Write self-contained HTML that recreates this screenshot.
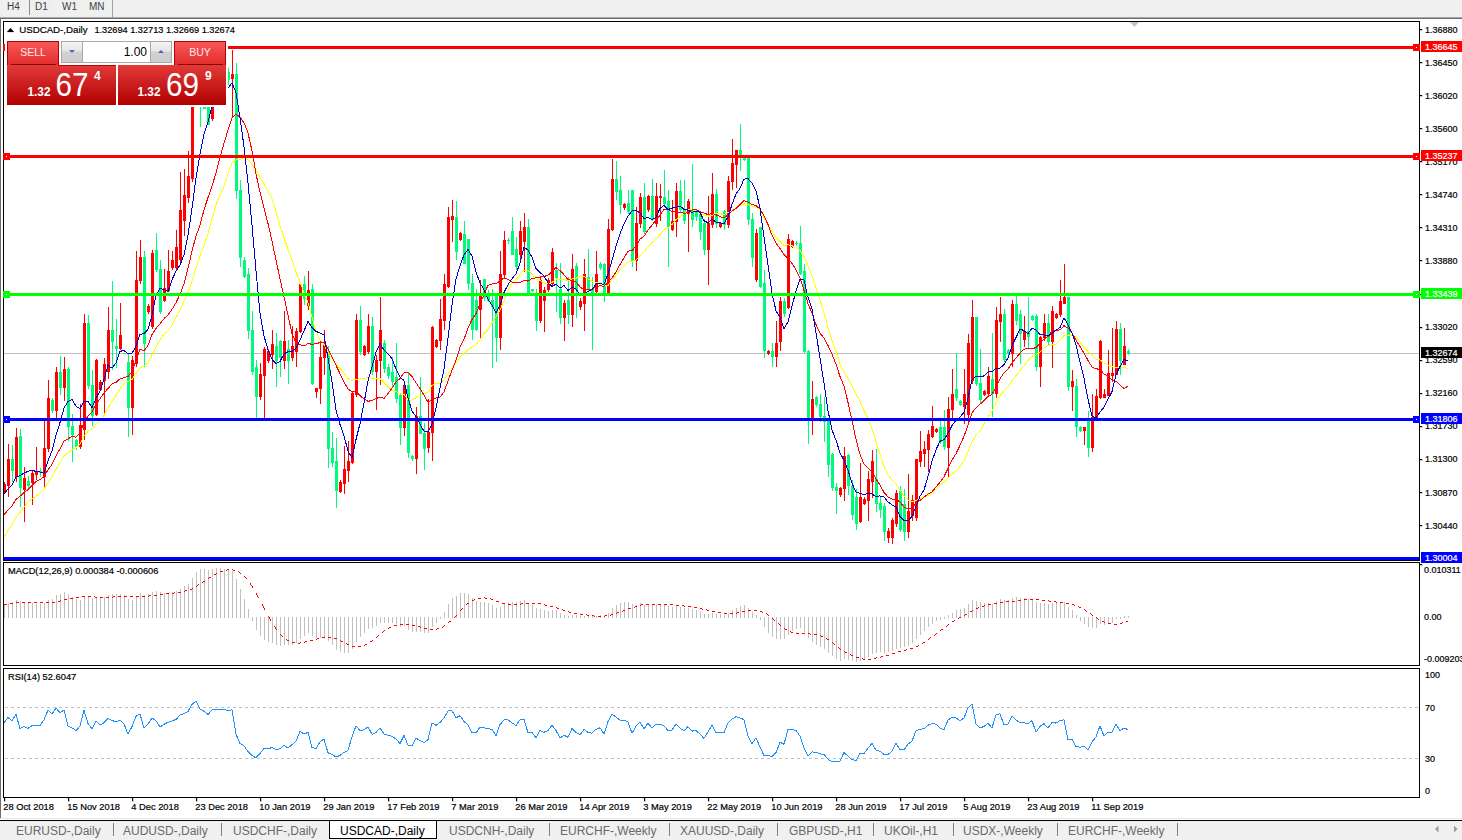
<!DOCTYPE html>
<html><head><meta charset="utf-8"><style>
html,body{margin:0;padding:0;}
body{width:1462px;height:840px;overflow:hidden;position:relative;background:#fff;font-family:"Liberation Sans",sans-serif;}
.abs{position:absolute;}
.tf{top:1px;font-size:10px;line-height:12px;color:#404040;}
.btxt{font-size:10.5px;color:#ffe8e8;text-align:center;line-height:14px;}
.pr{white-space:nowrap;color:#fff;line-height:30px;height:30px;}
.ps{font-size:12px;font-weight:bold;}
.pb{font-size:33px;margin-left:5px;}
.pu{font-size:12px;font-weight:bold;vertical-align:top;position:relative;top:-8px;margin-left:5px;}
.tab{top:824px;font-size:12px;line-height:14px;color:#6a6a6a;white-space:nowrap;}
.sep{top:823px;width:1px;height:13px;background:#808080;}
</style></head><body>
<div class="abs" style="left:0;top:0;width:1462px;height:17px;background:#f0f0f0"></div>
<div class="abs" style="left:0;top:17px;width:1462px;height:1px;background:#a8a8a8"></div>
<div class="abs" style="left:0;top:18px;width:1462px;height:1px;background:#707070"></div>
<div class="abs" style="left:0;top:19px;width:1px;height:799px;background:#6e6e6e"></div>
<svg width="1462" height="840" viewBox="0 0 1462 840" style="position:absolute;left:0;top:0">
<defs><clipPath id="cm"><rect x="4" y="22" width="1415" height="538"/></clipPath><clipPath id="cd"><rect x="4" y="563" width="1415" height="102"/></clipPath><clipPath id="cr"><rect x="4" y="669" width="1415" height="128"/></clipPath></defs>
<g shape-rendering="crispEdges">
<rect x="4" y="353" width="1415" height="1" fill="#c0c0c0"/>
<g clip-path="url(#cm)">
<rect x="4" y="482" width="1" height="12" fill="#ff0000"/>
<rect x="3" y="484" width="3" height="8" fill="#ff0000"/>
<rect x="8" y="444" width="1" height="53" fill="#ff0000"/>
<rect x="7" y="459" width="3" height="27" fill="#ff0000"/>
<rect x="12" y="445" width="1" height="37" fill="#00fa7c"/>
<rect x="11" y="459" width="3" height="12" fill="#00fa7c"/>
<rect x="16" y="428" width="1" height="54" fill="#ff0000"/>
<rect x="15" y="437" width="3" height="40" fill="#ff0000"/>
<rect x="20" y="429" width="1" height="78" fill="#00fa7c"/>
<rect x="19" y="436" width="3" height="52" fill="#00fa7c"/>
<rect x="24" y="467" width="1" height="55" fill="#ff0000"/>
<rect x="23" y="478" width="3" height="12" fill="#ff0000"/>
<rect x="28" y="476" width="1" height="13" fill="#00fa7c"/>
<rect x="27" y="481" width="3" height="5" fill="#00fa7c"/>
<rect x="32" y="471" width="1" height="34" fill="#ff0000"/>
<rect x="31" y="473" width="3" height="10" fill="#ff0000"/>
<rect x="36" y="447" width="1" height="33" fill="#ff0000"/>
<rect x="35" y="471" width="3" height="4" fill="#ff0000"/>
<rect x="40" y="468" width="1" height="9" fill="#00fa7c"/>
<rect x="39" y="471" width="3" height="2" fill="#00fa7c"/>
<rect x="44" y="421" width="1" height="67" fill="#ff0000"/>
<rect x="43" y="448" width="3" height="29" fill="#ff0000"/>
<rect x="48" y="380" width="1" height="72" fill="#ff0000"/>
<rect x="47" y="398" width="3" height="51" fill="#ff0000"/>
<rect x="52" y="398" width="1" height="15" fill="#00fa7c"/>
<rect x="51" y="400" width="3" height="11" fill="#00fa7c"/>
<rect x="56" y="367" width="1" height="51" fill="#ff0000"/>
<rect x="55" y="372" width="3" height="39" fill="#ff0000"/>
<rect x="60" y="356" width="1" height="39" fill="#00fa7c"/>
<rect x="59" y="372" width="3" height="16" fill="#00fa7c"/>
<rect x="64" y="357" width="1" height="44" fill="#ff0000"/>
<rect x="63" y="369" width="3" height="19" fill="#ff0000"/>
<rect x="68" y="367" width="1" height="74" fill="#00fa7c"/>
<rect x="67" y="369" width="3" height="58" fill="#00fa7c"/>
<rect x="72" y="414" width="1" height="48" fill="#00fa7c"/>
<rect x="71" y="426" width="3" height="9" fill="#00fa7c"/>
<rect x="76" y="439" width="1" height="11" fill="#00fa7c"/>
<rect x="75" y="440" width="3" height="7" fill="#00fa7c"/>
<rect x="80" y="404" width="1" height="45" fill="#ff0000"/>
<rect x="79" y="425" width="3" height="22" fill="#ff0000"/>
<rect x="84" y="314" width="1" height="126" fill="#ff0000"/>
<rect x="83" y="323" width="3" height="107" fill="#ff0000"/>
<rect x="88" y="315" width="1" height="74" fill="#00fa7c"/>
<rect x="87" y="323" width="3" height="63" fill="#00fa7c"/>
<rect x="92" y="370" width="1" height="56" fill="#00fa7c"/>
<rect x="91" y="385" width="3" height="31" fill="#00fa7c"/>
<rect x="96" y="359" width="1" height="57" fill="#ff0000"/>
<rect x="95" y="360" width="3" height="55" fill="#ff0000"/>
<rect x="100" y="380" width="1" height="11" fill="#ff0000"/>
<rect x="99" y="382" width="3" height="8" fill="#ff0000"/>
<rect x="104" y="358" width="1" height="57" fill="#ff0000"/>
<rect x="103" y="364" width="3" height="17" fill="#ff0000"/>
<rect x="108" y="307" width="1" height="72" fill="#ff0000"/>
<rect x="107" y="330" width="3" height="42" fill="#ff0000"/>
<rect x="112" y="281" width="1" height="89" fill="#00fa7c"/>
<rect x="111" y="330" width="3" height="12" fill="#00fa7c"/>
<rect x="116" y="319" width="1" height="49" fill="#00fa7c"/>
<rect x="115" y="346" width="3" height="3" fill="#00fa7c"/>
<rect x="120" y="303" width="1" height="47" fill="#ff0000"/>
<rect x="119" y="335" width="3" height="14" fill="#ff0000"/>
<rect x="124" y="353" width="1" height="1" fill="#00fa7c"/>
<rect x="123" y="353" width="3" height="1" fill="#00fa7c"/>
<rect x="128" y="354" width="1" height="83" fill="#00fa7c"/>
<rect x="127" y="362" width="3" height="46" fill="#00fa7c"/>
<rect x="132" y="356" width="1" height="79" fill="#ff0000"/>
<rect x="131" y="360" width="3" height="48" fill="#ff0000"/>
<rect x="136" y="251" width="1" height="116" fill="#ff0000"/>
<rect x="135" y="280" width="3" height="84" fill="#ff0000"/>
<rect x="140" y="240" width="1" height="44" fill="#ff0000"/>
<rect x="139" y="257" width="3" height="24" fill="#ff0000"/>
<rect x="144" y="251" width="1" height="116" fill="#00fa7c"/>
<rect x="143" y="257" width="3" height="87" fill="#00fa7c"/>
<rect x="148" y="304" width="1" height="10" fill="#ff0000"/>
<rect x="147" y="306" width="3" height="6" fill="#ff0000"/>
<rect x="152" y="250" width="1" height="79" fill="#ff0000"/>
<rect x="151" y="253" width="3" height="74" fill="#ff0000"/>
<rect x="156" y="233" width="1" height="39" fill="#00fa7c"/>
<rect x="155" y="250" width="3" height="20" fill="#00fa7c"/>
<rect x="160" y="260" width="1" height="54" fill="#00fa7c"/>
<rect x="159" y="269" width="3" height="43" fill="#00fa7c"/>
<rect x="164" y="269" width="1" height="33" fill="#ff0000"/>
<rect x="163" y="288" width="3" height="13" fill="#ff0000"/>
<rect x="168" y="250" width="1" height="42" fill="#ff0000"/>
<rect x="167" y="271" width="3" height="20" fill="#ff0000"/>
<rect x="172" y="251" width="1" height="19" fill="#ff0000"/>
<rect x="171" y="260" width="3" height="8" fill="#ff0000"/>
<rect x="176" y="230" width="1" height="40" fill="#ff0000"/>
<rect x="175" y="247" width="3" height="21" fill="#ff0000"/>
<rect x="180" y="172" width="1" height="91" fill="#ff0000"/>
<rect x="179" y="210" width="3" height="50" fill="#ff0000"/>
<rect x="184" y="169" width="1" height="67" fill="#ff0000"/>
<rect x="183" y="195" width="3" height="26" fill="#ff0000"/>
<rect x="188" y="151" width="1" height="52" fill="#ff0000"/>
<rect x="187" y="176" width="3" height="22" fill="#ff0000"/>
<rect x="192" y="92" width="1" height="90" fill="#ff0000"/>
<rect x="191" y="100" width="3" height="79" fill="#ff0000"/>
<rect x="196" y="52" width="1" height="54" fill="#ff0000"/>
<rect x="195" y="56" width="3" height="45" fill="#ff0000"/>
<rect x="200" y="52" width="1" height="75" fill="#00fa7c"/>
<rect x="199" y="56" width="3" height="40" fill="#00fa7c"/>
<rect x="204" y="90" width="1" height="19" fill="#00fa7c"/>
<rect x="203" y="95" width="3" height="14" fill="#00fa7c"/>
<rect x="208" y="92" width="1" height="33" fill="#00fa7c"/>
<rect x="207" y="100" width="3" height="25" fill="#00fa7c"/>
<rect x="212" y="72" width="1" height="49" fill="#ff0000"/>
<rect x="211" y="80" width="3" height="39" fill="#ff0000"/>
<rect x="216" y="68" width="1" height="18" fill="#ff0000"/>
<rect x="215" y="75" width="3" height="6" fill="#ff0000"/>
<rect x="220" y="66" width="1" height="17" fill="#00fa7c"/>
<rect x="219" y="75" width="3" height="1" fill="#00fa7c"/>
<rect x="224" y="64" width="1" height="17" fill="#ff0000"/>
<rect x="223" y="75" width="3" height="4" fill="#ff0000"/>
<rect x="228" y="68" width="1" height="17" fill="#00fa7c"/>
<rect x="227" y="72" width="3" height="8" fill="#00fa7c"/>
<rect x="232" y="50" width="1" height="67" fill="#ff0000"/>
<rect x="231" y="74" width="3" height="5" fill="#ff0000"/>
<rect x="236" y="63" width="1" height="136" fill="#00fa7c"/>
<rect x="235" y="74" width="3" height="117" fill="#00fa7c"/>
<rect x="240" y="180" width="1" height="87" fill="#00fa7c"/>
<rect x="239" y="190" width="3" height="68" fill="#00fa7c"/>
<rect x="244" y="257" width="1" height="21" fill="#00fa7c"/>
<rect x="243" y="260" width="3" height="17" fill="#00fa7c"/>
<rect x="248" y="268" width="1" height="71" fill="#00fa7c"/>
<rect x="247" y="274" width="3" height="57" fill="#00fa7c"/>
<rect x="252" y="311" width="1" height="64" fill="#00fa7c"/>
<rect x="251" y="330" width="3" height="42" fill="#00fa7c"/>
<rect x="256" y="360" width="1" height="58" fill="#00fa7c"/>
<rect x="255" y="367" width="3" height="30" fill="#00fa7c"/>
<rect x="260" y="363" width="1" height="37" fill="#ff0000"/>
<rect x="259" y="374" width="3" height="23" fill="#ff0000"/>
<rect x="264" y="347" width="1" height="71" fill="#ff0000"/>
<rect x="263" y="349" width="3" height="27" fill="#ff0000"/>
<rect x="268" y="349" width="1" height="14" fill="#ff0000"/>
<rect x="267" y="351" width="3" height="10" fill="#ff0000"/>
<rect x="272" y="330" width="1" height="39" fill="#ff0000"/>
<rect x="271" y="344" width="3" height="11" fill="#ff0000"/>
<rect x="276" y="333" width="1" height="54" fill="#00fa7c"/>
<rect x="275" y="346" width="3" height="15" fill="#00fa7c"/>
<rect x="280" y="340" width="1" height="37" fill="#00fa7c"/>
<rect x="279" y="341" width="3" height="17" fill="#00fa7c"/>
<rect x="284" y="311" width="1" height="58" fill="#ff0000"/>
<rect x="283" y="341" width="3" height="20" fill="#ff0000"/>
<rect x="288" y="340" width="1" height="44" fill="#00fa7c"/>
<rect x="287" y="349" width="3" height="12" fill="#00fa7c"/>
<rect x="292" y="326" width="1" height="35" fill="#ff0000"/>
<rect x="291" y="346" width="3" height="12" fill="#ff0000"/>
<rect x="296" y="328" width="1" height="39" fill="#ff0000"/>
<rect x="295" y="331" width="3" height="21" fill="#ff0000"/>
<rect x="300" y="283" width="1" height="50" fill="#ff0000"/>
<rect x="299" y="284" width="3" height="48" fill="#ff0000"/>
<rect x="304" y="276" width="1" height="29" fill="#00fa7c"/>
<rect x="303" y="284" width="3" height="15" fill="#00fa7c"/>
<rect x="308" y="271" width="1" height="39" fill="#ff0000"/>
<rect x="307" y="290" width="3" height="16" fill="#ff0000"/>
<rect x="312" y="284" width="1" height="101" fill="#00fa7c"/>
<rect x="311" y="289" width="3" height="95" fill="#00fa7c"/>
<rect x="316" y="388" width="1" height="10" fill="#ff0000"/>
<rect x="315" y="388" width="3" height="4" fill="#ff0000"/>
<rect x="320" y="340" width="1" height="64" fill="#ff0000"/>
<rect x="319" y="357" width="3" height="32" fill="#ff0000"/>
<rect x="324" y="330" width="1" height="45" fill="#ff0000"/>
<rect x="323" y="344" width="3" height="14" fill="#ff0000"/>
<rect x="328" y="346" width="1" height="122" fill="#00fa7c"/>
<rect x="327" y="351" width="3" height="98" fill="#00fa7c"/>
<rect x="332" y="432" width="1" height="35" fill="#00fa7c"/>
<rect x="331" y="448" width="3" height="15" fill="#00fa7c"/>
<rect x="336" y="438" width="1" height="70" fill="#00fa7c"/>
<rect x="335" y="461" width="3" height="30" fill="#00fa7c"/>
<rect x="340" y="480" width="1" height="13" fill="#ff0000"/>
<rect x="339" y="482" width="3" height="10" fill="#ff0000"/>
<rect x="344" y="446" width="1" height="48" fill="#ff0000"/>
<rect x="343" y="469" width="3" height="15" fill="#ff0000"/>
<rect x="348" y="441" width="1" height="41" fill="#ff0000"/>
<rect x="347" y="461" width="3" height="10" fill="#ff0000"/>
<rect x="352" y="391" width="1" height="73" fill="#ff0000"/>
<rect x="351" y="393" width="3" height="70" fill="#ff0000"/>
<rect x="356" y="314" width="1" height="83" fill="#ff0000"/>
<rect x="355" y="320" width="3" height="75" fill="#ff0000"/>
<rect x="360" y="306" width="1" height="49" fill="#00fa7c"/>
<rect x="359" y="320" width="3" height="32" fill="#00fa7c"/>
<rect x="364" y="345" width="1" height="11" fill="#ff0000"/>
<rect x="363" y="346" width="3" height="9" fill="#ff0000"/>
<rect x="368" y="314" width="1" height="40" fill="#ff0000"/>
<rect x="367" y="326" width="3" height="26" fill="#ff0000"/>
<rect x="372" y="317" width="1" height="58" fill="#00fa7c"/>
<rect x="371" y="326" width="3" height="46" fill="#00fa7c"/>
<rect x="376" y="355" width="1" height="55" fill="#ff0000"/>
<rect x="375" y="360" width="3" height="12" fill="#ff0000"/>
<rect x="380" y="297" width="1" height="88" fill="#ff0000"/>
<rect x="379" y="330" width="3" height="31" fill="#ff0000"/>
<rect x="384" y="340" width="1" height="33" fill="#00fa7c"/>
<rect x="383" y="343" width="3" height="26" fill="#00fa7c"/>
<rect x="388" y="364" width="1" height="15" fill="#00fa7c"/>
<rect x="387" y="367" width="3" height="9" fill="#00fa7c"/>
<rect x="392" y="357" width="1" height="30" fill="#00fa7c"/>
<rect x="391" y="372" width="3" height="10" fill="#00fa7c"/>
<rect x="396" y="343" width="1" height="60" fill="#00fa7c"/>
<rect x="395" y="377" width="3" height="22" fill="#00fa7c"/>
<rect x="400" y="394" width="1" height="51" fill="#00fa7c"/>
<rect x="399" y="395" width="3" height="33" fill="#00fa7c"/>
<rect x="404" y="383" width="1" height="53" fill="#ff0000"/>
<rect x="403" y="385" width="3" height="43" fill="#ff0000"/>
<rect x="408" y="373" width="1" height="85" fill="#00fa7c"/>
<rect x="407" y="385" width="3" height="68" fill="#00fa7c"/>
<rect x="412" y="455" width="1" height="6" fill="#00fa7c"/>
<rect x="411" y="456" width="3" height="3" fill="#00fa7c"/>
<rect x="416" y="407" width="1" height="67" fill="#ff0000"/>
<rect x="415" y="416" width="3" height="43" fill="#ff0000"/>
<rect x="420" y="377" width="1" height="57" fill="#00fa7c"/>
<rect x="419" y="416" width="3" height="18" fill="#00fa7c"/>
<rect x="424" y="423" width="1" height="47" fill="#00fa7c"/>
<rect x="423" y="433" width="3" height="16" fill="#00fa7c"/>
<rect x="428" y="399" width="1" height="54" fill="#ff0000"/>
<rect x="427" y="432" width="3" height="16" fill="#ff0000"/>
<rect x="432" y="326" width="1" height="135" fill="#ff0000"/>
<rect x="431" y="327" width="3" height="106" fill="#ff0000"/>
<rect x="436" y="339" width="1" height="9" fill="#ff0000"/>
<rect x="435" y="340" width="3" height="7" fill="#ff0000"/>
<rect x="440" y="299" width="1" height="51" fill="#ff0000"/>
<rect x="439" y="319" width="3" height="22" fill="#ff0000"/>
<rect x="444" y="274" width="1" height="56" fill="#ff0000"/>
<rect x="443" y="284" width="3" height="37" fill="#ff0000"/>
<rect x="448" y="207" width="1" height="81" fill="#ff0000"/>
<rect x="447" y="217" width="3" height="70" fill="#ff0000"/>
<rect x="452" y="200" width="1" height="42" fill="#ff0000"/>
<rect x="451" y="216" width="3" height="4" fill="#ff0000"/>
<rect x="456" y="201" width="1" height="59" fill="#00fa7c"/>
<rect x="455" y="217" width="3" height="35" fill="#00fa7c"/>
<rect x="460" y="232" width="1" height="9" fill="#ff0000"/>
<rect x="459" y="233" width="3" height="7" fill="#ff0000"/>
<rect x="464" y="221" width="1" height="43" fill="#00fa7c"/>
<rect x="463" y="234" width="3" height="30" fill="#00fa7c"/>
<rect x="468" y="239" width="1" height="51" fill="#00fa7c"/>
<rect x="467" y="239" width="3" height="45" fill="#00fa7c"/>
<rect x="472" y="274" width="1" height="66" fill="#00fa7c"/>
<rect x="471" y="283" width="3" height="47" fill="#00fa7c"/>
<rect x="476" y="289" width="1" height="42" fill="#00fa7c"/>
<rect x="475" y="300" width="3" height="30" fill="#00fa7c"/>
<rect x="480" y="280" width="1" height="58" fill="#ff0000"/>
<rect x="479" y="293" width="3" height="17" fill="#ff0000"/>
<rect x="484" y="279" width="1" height="22" fill="#00fa7c"/>
<rect x="483" y="279" width="3" height="19" fill="#00fa7c"/>
<rect x="488" y="290" width="1" height="12" fill="#00fa7c"/>
<rect x="487" y="294" width="3" height="7" fill="#00fa7c"/>
<rect x="492" y="289" width="1" height="79" fill="#00fa7c"/>
<rect x="491" y="300" width="3" height="7" fill="#00fa7c"/>
<rect x="496" y="294" width="1" height="68" fill="#00fa7c"/>
<rect x="495" y="294" width="3" height="44" fill="#00fa7c"/>
<rect x="500" y="251" width="1" height="99" fill="#ff0000"/>
<rect x="499" y="274" width="3" height="64" fill="#ff0000"/>
<rect x="504" y="231" width="1" height="47" fill="#ff0000"/>
<rect x="503" y="240" width="3" height="35" fill="#ff0000"/>
<rect x="508" y="238" width="1" height="6" fill="#00fa7c"/>
<rect x="507" y="240" width="3" height="1" fill="#00fa7c"/>
<rect x="512" y="217" width="1" height="38" fill="#00fa7c"/>
<rect x="511" y="231" width="3" height="24" fill="#00fa7c"/>
<rect x="516" y="237" width="1" height="33" fill="#00fa7c"/>
<rect x="515" y="249" width="3" height="18" fill="#00fa7c"/>
<rect x="520" y="221" width="1" height="40" fill="#ff0000"/>
<rect x="519" y="231" width="3" height="24" fill="#ff0000"/>
<rect x="524" y="213" width="1" height="59" fill="#ff0000"/>
<rect x="523" y="227" width="3" height="15" fill="#ff0000"/>
<rect x="528" y="219" width="1" height="76" fill="#00fa7c"/>
<rect x="527" y="227" width="3" height="67" fill="#00fa7c"/>
<rect x="532" y="289" width="1" height="3" fill="#00fa7c"/>
<rect x="531" y="289" width="3" height="2" fill="#00fa7c"/>
<rect x="536" y="289" width="1" height="42" fill="#00fa7c"/>
<rect x="535" y="294" width="3" height="27" fill="#00fa7c"/>
<rect x="540" y="277" width="1" height="46" fill="#ff0000"/>
<rect x="539" y="280" width="3" height="41" fill="#ff0000"/>
<rect x="544" y="287" width="1" height="45" fill="#ff0000"/>
<rect x="543" y="290" width="3" height="11" fill="#ff0000"/>
<rect x="548" y="278" width="1" height="14" fill="#ff0000"/>
<rect x="547" y="280" width="3" height="10" fill="#ff0000"/>
<rect x="552" y="248" width="1" height="38" fill="#ff0000"/>
<rect x="551" y="252" width="3" height="32" fill="#ff0000"/>
<rect x="556" y="263" width="1" height="49" fill="#00fa7c"/>
<rect x="555" y="270" width="3" height="8" fill="#00fa7c"/>
<rect x="560" y="263" width="1" height="61" fill="#00fa7c"/>
<rect x="559" y="289" width="3" height="29" fill="#00fa7c"/>
<rect x="564" y="300" width="1" height="41" fill="#ff0000"/>
<rect x="563" y="303" width="3" height="15" fill="#ff0000"/>
<rect x="568" y="277" width="1" height="47" fill="#00fa7c"/>
<rect x="567" y="300" width="3" height="15" fill="#00fa7c"/>
<rect x="572" y="254" width="1" height="73" fill="#ff0000"/>
<rect x="571" y="269" width="3" height="46" fill="#ff0000"/>
<rect x="576" y="263" width="1" height="55" fill="#00fa7c"/>
<rect x="575" y="266" width="3" height="24" fill="#00fa7c"/>
<rect x="580" y="298" width="1" height="12" fill="#ff0000"/>
<rect x="579" y="301" width="3" height="6" fill="#ff0000"/>
<rect x="584" y="259" width="1" height="72" fill="#ff0000"/>
<rect x="583" y="274" width="3" height="30" fill="#ff0000"/>
<rect x="588" y="249" width="1" height="42" fill="#00fa7c"/>
<rect x="587" y="277" width="3" height="13" fill="#00fa7c"/>
<rect x="592" y="277" width="1" height="73" fill="#00fa7c"/>
<rect x="591" y="289" width="3" height="4" fill="#00fa7c"/>
<rect x="596" y="251" width="1" height="43" fill="#ff0000"/>
<rect x="595" y="274" width="3" height="18" fill="#ff0000"/>
<rect x="600" y="262" width="1" height="8" fill="#00fa7c"/>
<rect x="599" y="264" width="3" height="4" fill="#00fa7c"/>
<rect x="604" y="263" width="1" height="39" fill="#00fa7c"/>
<rect x="603" y="264" width="3" height="30" fill="#00fa7c"/>
<rect x="608" y="219" width="1" height="76" fill="#ff0000"/>
<rect x="607" y="229" width="3" height="65" fill="#ff0000"/>
<rect x="612" y="159" width="1" height="72" fill="#ff0000"/>
<rect x="611" y="179" width="3" height="51" fill="#ff0000"/>
<rect x="616" y="161" width="1" height="39" fill="#00fa7c"/>
<rect x="615" y="179" width="3" height="13" fill="#00fa7c"/>
<rect x="620" y="176" width="1" height="38" fill="#00fa7c"/>
<rect x="619" y="190" width="3" height="15" fill="#00fa7c"/>
<rect x="624" y="203" width="1" height="7" fill="#ff0000"/>
<rect x="623" y="204" width="3" height="4" fill="#ff0000"/>
<rect x="628" y="190" width="1" height="24" fill="#00fa7c"/>
<rect x="627" y="203" width="3" height="9" fill="#00fa7c"/>
<rect x="632" y="190" width="1" height="77" fill="#00fa7c"/>
<rect x="631" y="190" width="3" height="71" fill="#00fa7c"/>
<rect x="636" y="207" width="1" height="64" fill="#ff0000"/>
<rect x="635" y="223" width="3" height="38" fill="#ff0000"/>
<rect x="640" y="193" width="1" height="35" fill="#ff0000"/>
<rect x="639" y="197" width="3" height="27" fill="#ff0000"/>
<rect x="644" y="183" width="1" height="51" fill="#00fa7c"/>
<rect x="643" y="197" width="3" height="35" fill="#00fa7c"/>
<rect x="648" y="195" width="1" height="17" fill="#ff0000"/>
<rect x="647" y="196" width="3" height="14" fill="#ff0000"/>
<rect x="652" y="179" width="1" height="42" fill="#00fa7c"/>
<rect x="651" y="196" width="3" height="24" fill="#00fa7c"/>
<rect x="656" y="183" width="1" height="44" fill="#ff0000"/>
<rect x="655" y="196" width="3" height="28" fill="#ff0000"/>
<rect x="660" y="184" width="1" height="37" fill="#ff0000"/>
<rect x="659" y="196" width="3" height="2" fill="#ff0000"/>
<rect x="664" y="170" width="1" height="37" fill="#00fa7c"/>
<rect x="663" y="197" width="3" height="7" fill="#00fa7c"/>
<rect x="668" y="190" width="1" height="77" fill="#00fa7c"/>
<rect x="667" y="201" width="3" height="26" fill="#00fa7c"/>
<rect x="672" y="200" width="1" height="31" fill="#ff0000"/>
<rect x="671" y="221" width="3" height="9" fill="#ff0000"/>
<rect x="676" y="183" width="1" height="54" fill="#ff0000"/>
<rect x="675" y="191" width="3" height="31" fill="#ff0000"/>
<rect x="680" y="180" width="1" height="32" fill="#00fa7c"/>
<rect x="679" y="191" width="3" height="19" fill="#00fa7c"/>
<rect x="684" y="180" width="1" height="44" fill="#00fa7c"/>
<rect x="683" y="209" width="3" height="12" fill="#00fa7c"/>
<rect x="688" y="199" width="1" height="53" fill="#ff0000"/>
<rect x="687" y="201" width="3" height="13" fill="#ff0000"/>
<rect x="692" y="164" width="1" height="63" fill="#00fa7c"/>
<rect x="691" y="209" width="3" height="11" fill="#00fa7c"/>
<rect x="696" y="209" width="1" height="12" fill="#00fa7c"/>
<rect x="695" y="210" width="3" height="7" fill="#00fa7c"/>
<rect x="700" y="211" width="1" height="29" fill="#00fa7c"/>
<rect x="699" y="214" width="3" height="18" fill="#00fa7c"/>
<rect x="704" y="219" width="1" height="36" fill="#00fa7c"/>
<rect x="703" y="223" width="3" height="27" fill="#00fa7c"/>
<rect x="708" y="196" width="1" height="89" fill="#ff0000"/>
<rect x="707" y="223" width="3" height="27" fill="#ff0000"/>
<rect x="712" y="173" width="1" height="55" fill="#ff0000"/>
<rect x="711" y="194" width="3" height="31" fill="#ff0000"/>
<rect x="716" y="189" width="1" height="39" fill="#00fa7c"/>
<rect x="715" y="194" width="3" height="30" fill="#00fa7c"/>
<rect x="720" y="222" width="1" height="6" fill="#ff0000"/>
<rect x="719" y="223" width="3" height="4" fill="#ff0000"/>
<rect x="724" y="210" width="1" height="20" fill="#00fa7c"/>
<rect x="723" y="211" width="3" height="14" fill="#00fa7c"/>
<rect x="728" y="176" width="1" height="52" fill="#ff0000"/>
<rect x="727" y="181" width="3" height="44" fill="#ff0000"/>
<rect x="732" y="139" width="1" height="51" fill="#ff0000"/>
<rect x="731" y="163" width="3" height="19" fill="#ff0000"/>
<rect x="736" y="150" width="1" height="38" fill="#ff0000"/>
<rect x="735" y="150" width="3" height="15" fill="#ff0000"/>
<rect x="740" y="124" width="1" height="47" fill="#00fa7c"/>
<rect x="739" y="150" width="3" height="5" fill="#00fa7c"/>
<rect x="744" y="155" width="1" height="6" fill="#00fa7c"/>
<rect x="743" y="156" width="3" height="4" fill="#00fa7c"/>
<rect x="748" y="157" width="1" height="68" fill="#00fa7c"/>
<rect x="747" y="157" width="3" height="63" fill="#00fa7c"/>
<rect x="752" y="213" width="1" height="54" fill="#00fa7c"/>
<rect x="751" y="219" width="3" height="39" fill="#00fa7c"/>
<rect x="756" y="229" width="1" height="53" fill="#ff0000"/>
<rect x="755" y="233" width="3" height="47" fill="#ff0000"/>
<rect x="760" y="227" width="1" height="61" fill="#00fa7c"/>
<rect x="759" y="227" width="3" height="60" fill="#00fa7c"/>
<rect x="764" y="270" width="1" height="88" fill="#00fa7c"/>
<rect x="763" y="283" width="3" height="68" fill="#00fa7c"/>
<rect x="768" y="350" width="1" height="5" fill="#ff0000"/>
<rect x="767" y="351" width="3" height="3" fill="#ff0000"/>
<rect x="772" y="343" width="1" height="24" fill="#00fa7c"/>
<rect x="771" y="351" width="3" height="6" fill="#00fa7c"/>
<rect x="776" y="321" width="1" height="46" fill="#ff0000"/>
<rect x="775" y="343" width="3" height="14" fill="#ff0000"/>
<rect x="780" y="297" width="1" height="54" fill="#ff0000"/>
<rect x="779" y="301" width="3" height="41" fill="#ff0000"/>
<rect x="784" y="298" width="1" height="19" fill="#00fa7c"/>
<rect x="783" y="301" width="3" height="13" fill="#00fa7c"/>
<rect x="788" y="234" width="1" height="75" fill="#ff0000"/>
<rect x="787" y="239" width="3" height="69" fill="#ff0000"/>
<rect x="792" y="240" width="1" height="8" fill="#ff0000"/>
<rect x="791" y="241" width="3" height="6" fill="#ff0000"/>
<rect x="796" y="241" width="1" height="5" fill="#00fa7c"/>
<rect x="795" y="243" width="3" height="1" fill="#00fa7c"/>
<rect x="800" y="226" width="1" height="49" fill="#00fa7c"/>
<rect x="799" y="243" width="3" height="31" fill="#00fa7c"/>
<rect x="804" y="264" width="1" height="89" fill="#00fa7c"/>
<rect x="803" y="271" width="3" height="81" fill="#00fa7c"/>
<rect x="808" y="350" width="1" height="94" fill="#00fa7c"/>
<rect x="807" y="351" width="3" height="69" fill="#00fa7c"/>
<rect x="812" y="381" width="1" height="54" fill="#ff0000"/>
<rect x="811" y="399" width="3" height="19" fill="#ff0000"/>
<rect x="816" y="396" width="1" height="11" fill="#00fa7c"/>
<rect x="815" y="397" width="3" height="8" fill="#00fa7c"/>
<rect x="820" y="394" width="1" height="28" fill="#00fa7c"/>
<rect x="819" y="404" width="3" height="13" fill="#00fa7c"/>
<rect x="824" y="397" width="1" height="45" fill="#00fa7c"/>
<rect x="823" y="416" width="3" height="6" fill="#00fa7c"/>
<rect x="828" y="419" width="1" height="58" fill="#00fa7c"/>
<rect x="827" y="420" width="3" height="45" fill="#00fa7c"/>
<rect x="832" y="453" width="1" height="38" fill="#00fa7c"/>
<rect x="831" y="454" width="3" height="34" fill="#00fa7c"/>
<rect x="836" y="483" width="1" height="31" fill="#00fa7c"/>
<rect x="835" y="487" width="3" height="4" fill="#00fa7c"/>
<rect x="840" y="487" width="1" height="10" fill="#ff0000"/>
<rect x="839" y="488" width="3" height="7" fill="#ff0000"/>
<rect x="844" y="447" width="1" height="54" fill="#ff0000"/>
<rect x="843" y="456" width="3" height="33" fill="#ff0000"/>
<rect x="848" y="454" width="1" height="41" fill="#00fa7c"/>
<rect x="847" y="455" width="3" height="31" fill="#00fa7c"/>
<rect x="852" y="480" width="1" height="40" fill="#00fa7c"/>
<rect x="851" y="486" width="3" height="29" fill="#00fa7c"/>
<rect x="856" y="489" width="1" height="41" fill="#00fa7c"/>
<rect x="855" y="497" width="3" height="27" fill="#00fa7c"/>
<rect x="860" y="463" width="1" height="60" fill="#ff0000"/>
<rect x="859" y="497" width="3" height="25" fill="#ff0000"/>
<rect x="864" y="497" width="1" height="8" fill="#ff0000"/>
<rect x="863" y="499" width="3" height="5" fill="#ff0000"/>
<rect x="868" y="471" width="1" height="50" fill="#ff0000"/>
<rect x="867" y="479" width="3" height="22" fill="#ff0000"/>
<rect x="872" y="450" width="1" height="48" fill="#ff0000"/>
<rect x="871" y="461" width="3" height="21" fill="#ff0000"/>
<rect x="876" y="449" width="1" height="63" fill="#00fa7c"/>
<rect x="875" y="479" width="3" height="25" fill="#00fa7c"/>
<rect x="880" y="497" width="1" height="21" fill="#00fa7c"/>
<rect x="879" y="503" width="3" height="7" fill="#00fa7c"/>
<rect x="884" y="503" width="1" height="38" fill="#00fa7c"/>
<rect x="883" y="506" width="3" height="26" fill="#00fa7c"/>
<rect x="888" y="528" width="1" height="15" fill="#ff0000"/>
<rect x="887" y="531" width="3" height="7" fill="#ff0000"/>
<rect x="892" y="518" width="1" height="26" fill="#ff0000"/>
<rect x="891" y="520" width="3" height="18" fill="#ff0000"/>
<rect x="896" y="490" width="1" height="37" fill="#ff0000"/>
<rect x="895" y="493" width="3" height="31" fill="#ff0000"/>
<rect x="900" y="486" width="1" height="46" fill="#00fa7c"/>
<rect x="899" y="491" width="3" height="39" fill="#00fa7c"/>
<rect x="904" y="489" width="1" height="52" fill="#00fa7c"/>
<rect x="903" y="504" width="3" height="28" fill="#00fa7c"/>
<rect x="908" y="474" width="1" height="64" fill="#ff0000"/>
<rect x="907" y="511" width="3" height="21" fill="#ff0000"/>
<rect x="912" y="495" width="1" height="26" fill="#ff0000"/>
<rect x="911" y="500" width="3" height="16" fill="#ff0000"/>
<rect x="916" y="459" width="1" height="62" fill="#ff0000"/>
<rect x="915" y="459" width="3" height="59" fill="#ff0000"/>
<rect x="920" y="431" width="1" height="36" fill="#ff0000"/>
<rect x="919" y="451" width="3" height="11" fill="#ff0000"/>
<rect x="924" y="441" width="1" height="26" fill="#ff0000"/>
<rect x="923" y="449" width="3" height="5" fill="#ff0000"/>
<rect x="928" y="430" width="1" height="42" fill="#ff0000"/>
<rect x="927" y="434" width="3" height="16" fill="#ff0000"/>
<rect x="932" y="406" width="1" height="32" fill="#ff0000"/>
<rect x="931" y="426" width="3" height="11" fill="#ff0000"/>
<rect x="936" y="428" width="1" height="5" fill="#ff0000"/>
<rect x="935" y="429" width="3" height="3" fill="#ff0000"/>
<rect x="940" y="420" width="1" height="24" fill="#00fa7c"/>
<rect x="939" y="427" width="3" height="15" fill="#00fa7c"/>
<rect x="944" y="410" width="1" height="40" fill="#00fa7c"/>
<rect x="943" y="427" width="3" height="20" fill="#00fa7c"/>
<rect x="948" y="397" width="1" height="81" fill="#ff0000"/>
<rect x="947" y="409" width="3" height="39" fill="#ff0000"/>
<rect x="952" y="369" width="1" height="52" fill="#ff0000"/>
<rect x="951" y="394" width="3" height="16" fill="#ff0000"/>
<rect x="956" y="353" width="1" height="48" fill="#00fa7c"/>
<rect x="955" y="389" width="3" height="9" fill="#00fa7c"/>
<rect x="960" y="400" width="1" height="6" fill="#00fa7c"/>
<rect x="959" y="401" width="3" height="4" fill="#00fa7c"/>
<rect x="964" y="369" width="1" height="55" fill="#ff0000"/>
<rect x="963" y="394" width="3" height="13" fill="#ff0000"/>
<rect x="968" y="334" width="1" height="90" fill="#ff0000"/>
<rect x="967" y="343" width="3" height="72" fill="#ff0000"/>
<rect x="972" y="300" width="1" height="84" fill="#ff0000"/>
<rect x="971" y="317" width="3" height="64" fill="#ff0000"/>
<rect x="976" y="317" width="1" height="69" fill="#00fa7c"/>
<rect x="975" y="317" width="3" height="67" fill="#00fa7c"/>
<rect x="980" y="349" width="1" height="55" fill="#00fa7c"/>
<rect x="979" y="383" width="3" height="17" fill="#00fa7c"/>
<rect x="984" y="390" width="1" height="6" fill="#ff0000"/>
<rect x="983" y="391" width="3" height="4" fill="#ff0000"/>
<rect x="988" y="367" width="1" height="30" fill="#ff0000"/>
<rect x="987" y="376" width="3" height="18" fill="#ff0000"/>
<rect x="992" y="333" width="1" height="84" fill="#00fa7c"/>
<rect x="991" y="379" width="3" height="15" fill="#00fa7c"/>
<rect x="996" y="307" width="1" height="91" fill="#ff0000"/>
<rect x="995" y="320" width="3" height="74" fill="#ff0000"/>
<rect x="1000" y="297" width="1" height="45" fill="#ff0000"/>
<rect x="999" y="314" width="3" height="8" fill="#ff0000"/>
<rect x="1004" y="309" width="1" height="53" fill="#00fa7c"/>
<rect x="1003" y="314" width="3" height="46" fill="#00fa7c"/>
<rect x="1008" y="349" width="1" height="6" fill="#00fa7c"/>
<rect x="1007" y="350" width="3" height="4" fill="#00fa7c"/>
<rect x="1012" y="300" width="1" height="67" fill="#ff0000"/>
<rect x="1011" y="304" width="3" height="50" fill="#ff0000"/>
<rect x="1016" y="296" width="1" height="29" fill="#00fa7c"/>
<rect x="1015" y="304" width="3" height="17" fill="#00fa7c"/>
<rect x="1020" y="310" width="1" height="54" fill="#00fa7c"/>
<rect x="1019" y="314" width="3" height="20" fill="#00fa7c"/>
<rect x="1024" y="316" width="1" height="31" fill="#ff0000"/>
<rect x="1023" y="331" width="3" height="9" fill="#ff0000"/>
<rect x="1028" y="297" width="1" height="51" fill="#00fa7c"/>
<rect x="1027" y="331" width="3" height="6" fill="#00fa7c"/>
<rect x="1032" y="315" width="1" height="6" fill="#00fa7c"/>
<rect x="1031" y="316" width="3" height="4" fill="#00fa7c"/>
<rect x="1036" y="314" width="1" height="57" fill="#00fa7c"/>
<rect x="1035" y="316" width="3" height="51" fill="#00fa7c"/>
<rect x="1040" y="336" width="1" height="51" fill="#ff0000"/>
<rect x="1039" y="337" width="3" height="30" fill="#ff0000"/>
<rect x="1044" y="314" width="1" height="27" fill="#ff0000"/>
<rect x="1043" y="323" width="3" height="15" fill="#ff0000"/>
<rect x="1048" y="314" width="1" height="31" fill="#00fa7c"/>
<rect x="1047" y="323" width="3" height="19" fill="#00fa7c"/>
<rect x="1052" y="306" width="1" height="62" fill="#ff0000"/>
<rect x="1051" y="311" width="3" height="31" fill="#ff0000"/>
<rect x="1056" y="313" width="1" height="6" fill="#ff0000"/>
<rect x="1055" y="314" width="3" height="4" fill="#ff0000"/>
<rect x="1060" y="280" width="1" height="37" fill="#ff0000"/>
<rect x="1059" y="301" width="3" height="14" fill="#ff0000"/>
<rect x="1064" y="264" width="1" height="40" fill="#ff0000"/>
<rect x="1063" y="297" width="3" height="7" fill="#ff0000"/>
<rect x="1068" y="297" width="1" height="94" fill="#00fa7c"/>
<rect x="1067" y="297" width="3" height="90" fill="#00fa7c"/>
<rect x="1072" y="370" width="1" height="41" fill="#ff0000"/>
<rect x="1071" y="381" width="3" height="6" fill="#ff0000"/>
<rect x="1076" y="379" width="1" height="58" fill="#00fa7c"/>
<rect x="1075" y="386" width="3" height="41" fill="#00fa7c"/>
<rect x="1080" y="426" width="1" height="6" fill="#00fa7c"/>
<rect x="1079" y="427" width="3" height="4" fill="#00fa7c"/>
<rect x="1084" y="427" width="1" height="18" fill="#ff0000"/>
<rect x="1083" y="427" width="3" height="4" fill="#ff0000"/>
<rect x="1088" y="411" width="1" height="46" fill="#00fa7c"/>
<rect x="1087" y="421" width="3" height="27" fill="#00fa7c"/>
<rect x="1092" y="394" width="1" height="58" fill="#ff0000"/>
<rect x="1091" y="417" width="3" height="31" fill="#ff0000"/>
<rect x="1096" y="389" width="1" height="31" fill="#ff0000"/>
<rect x="1095" y="396" width="3" height="22" fill="#ff0000"/>
<rect x="1100" y="340" width="1" height="59" fill="#ff0000"/>
<rect x="1099" y="341" width="3" height="57" fill="#ff0000"/>
<rect x="1104" y="389" width="1" height="9" fill="#ff0000"/>
<rect x="1103" y="394" width="3" height="4" fill="#ff0000"/>
<rect x="1108" y="350" width="1" height="46" fill="#ff0000"/>
<rect x="1107" y="373" width="3" height="23" fill="#ff0000"/>
<rect x="1112" y="328" width="1" height="54" fill="#ff0000"/>
<rect x="1111" y="373" width="3" height="3" fill="#ff0000"/>
<rect x="1116" y="321" width="1" height="54" fill="#ff0000"/>
<rect x="1115" y="329" width="3" height="46" fill="#ff0000"/>
<rect x="1120" y="323" width="1" height="52" fill="#00fa7c"/>
<rect x="1119" y="329" width="3" height="32" fill="#00fa7c"/>
<rect x="1124" y="328" width="1" height="37" fill="#ff0000"/>
<rect x="1123" y="346" width="3" height="19" fill="#ff0000"/>
<rect x="1128" y="349" width="1" height="6" fill="#00fa7c"/>
<rect x="1127" y="351" width="3" height="3" fill="#00fa7c"/>
</g>
</g>
<g clip-path="url(#cm)">
<polyline points="4,537.0 8,530.6 12,524.8 16,517.4 20,512.4 24,507.0 28,501.9 32,499.0 36,496.1 40,493.2 44,489.1 48,482.7 52,476.9 56,469.2 60,462.2 64,456.2 68,452.9 72,449.9 76,447.5 80,444.1 84,435.9 88,431.2 92,429.1 96,423.9 100,421.2 104,415.4 108,408.3 112,401.5 116,395.5 120,389.0 124,383.4 128,381.4 132,379.6 136,373.4 140,368.0 144,365.9 148,362.9 152,354.6 156,346.8 160,340.3 164,333.8 168,331.3 172,325.4 176,317.4 180,310.2 184,301.3 188,292.4 192,281.4 196,267.9 200,255.8 204,245.0 208,234.1 212,218.5 216,205.0 220,195.2 224,186.5 228,174.0 232,162.9 236,159.9 240,159.3 244,157.7 248,159.7 252,164.4 256,170.9 260,177.0 264,183.6 268,191.0 272,199.0 276,211.4 280,225.7 284,237.4 288,249.4 292,260.0 296,272.0 300,281.9 304,292.5 308,302.8 312,317.2 316,332.2 320,340.1 324,344.3 328,352.5 332,358.8 336,364.4 340,368.5 344,373.0 348,378.4 352,380.4 356,379.2 360,378.8 364,378.3 368,377.6 372,378.1 376,378.8 380,378.7 384,382.7 388,386.4 392,390.7 396,391.4 400,393.3 404,394.6 408,399.8 412,400.2 416,398.0 420,395.3 424,393.7 428,392.0 432,385.6 436,383.0 440,383.0 444,379.8 448,373.7 452,368.4 456,362.7 460,356.7 464,353.5 468,349.4 472,347.2 476,344.8 480,339.8 484,333.6 488,329.5 492,322.6 496,316.8 500,310.0 504,300.9 508,291.0 512,282.5 516,279.6 520,274.4 524,270.0 528,270.4 532,273.9 536,278.9 540,280.2 544,283.0 548,283.8 552,282.3 556,279.8 560,279.2 564,279.7 568,280.5 572,279.0 576,278.2 580,276.5 584,276.5 588,278.9 592,281.3 596,282.3 600,282.3 604,285.3 608,285.4 612,280.0 616,275.2 620,269.7 624,266.1 628,262.3 632,261.4 636,260.0 640,256.2 644,252.1 648,247.0 652,242.5 656,239.0 660,234.6 664,229.9 668,227.6 672,224.4 676,219.6 680,216.5 684,214.2 688,209.9 692,209.4 696,211.1 700,213.0 704,215.2 708,216.1 712,215.3 716,213.5 720,213.5 724,214.8 728,212.4 732,210.9 736,207.6 740,205.6 744,203.8 748,204.6 752,206.0 756,206.6 760,211.1 764,217.9 768,224.1 772,231.5 776,237.4 780,241.4 784,245.3 788,244.9 792,245.7 796,248.0 800,250.4 804,256.5 808,265.8 812,276.2 816,287.7 820,300.3 824,313.0 828,327.6 832,340.3 836,351.4 840,363.6 844,371.7 848,378.1 852,385.9 856,393.8 860,401.1 864,410.6 868,418.5 872,429.0 876,441.5 880,454.2 884,466.5 888,475.0 892,479.9 896,484.3 900,490.3 904,495.8 908,500.0 912,501.8 916,500.4 920,498.6 924,496.7 928,495.7 932,492.9 936,488.8 940,484.9 944,482.5 948,478.2 952,474.1 956,471.1 960,466.4 964,460.9 968,452.0 972,441.8 976,435.2 980,430.8 984,424.2 988,416.8 992,411.2 996,402.6 1000,395.7 1004,391.3 1008,386.8 1012,380.6 1016,375.5 1020,371.0 1024,365.7 1028,360.5 1032,356.2 1036,354.9 1040,352.0 1044,348.1 1048,345.6 1052,344.1 1056,344.0 1060,340.0 1064,335.2 1068,335.0 1072,335.2 1076,336.8 1080,342.0 1084,347.4 1088,351.6 1092,354.6 1096,359.0 1100,360.0 1104,362.9 1108,364.9 1112,366.7 1116,367.1 1120,366.9 1124,367.3 1128,368.7" fill="none" stroke="#ffff00" stroke-width="1" shape-rendering="crispEdges"/>
<polyline points="4,514.9 8,510.0 12,505.8 16,499.4 20,496.3 24,492.7 28,489.5 32,485.5 36,481.3 40,479.7 44,476.5 48,470.0 52,464.3 56,456.0 60,448.7 64,441.1 68,438.9 72,436.5 76,437.1 80,432.9 84,422.6 88,415.9 92,412.1 96,404.7 100,398.7 104,393.1 108,388.5 112,383.9 116,382.3 120,378.9 124,377.8 128,376.5 132,371.6 136,360.5 140,349.3 144,350.7 148,345.4 152,334.6 156,328.5 160,323.8 164,318.7 168,314.8 172,309.4 176,302.7 180,294.3 184,283.8 188,268.4 192,251.1 196,236.1 200,225.3 204,209.7 208,197.5 212,186.0 216,173.1 220,157.3 224,143.1 228,130.3 232,117.9 236,114.1 240,117.3 244,122.7 248,132.9 252,151.0 256,173.7 260,192.3 264,208.3 268,223.5 272,241.1 276,260.1 280,278.9 284,296.6 288,315.3 292,333.5 296,342.9 300,344.7 304,346.1 308,343.5 312,344.3 316,343.7 320,342.6 324,342.3 328,348.7 332,356.6 336,365.3 340,373.6 344,382.1 348,388.9 352,392.0 356,391.3 360,395.7 364,398.9 368,401.3 372,400.5 376,398.7 380,396.9 384,398.5 388,393.6 392,388.2 396,382.1 400,378.4 404,372.8 408,372.2 412,376.5 416,382.9 420,388.4 424,395.2 428,402.3 432,399.3 436,398.0 440,397.3 444,391.7 448,381.1 452,370.1 456,360.3 460,347.4 464,339.3 468,328.0 472,319.4 476,313.6 480,304.3 484,294.2 488,285.4 492,284.0 496,283.8 500,280.8 504,277.9 508,279.4 512,281.9 516,282.9 520,282.8 524,280.4 528,281.1 532,278.5 536,277.9 540,277.0 544,276.5 548,275.2 552,271.6 556,267.6 560,270.5 564,274.7 568,279.6 572,280.6 576,282.1 580,286.8 584,289.9 588,289.7 592,289.8 596,286.7 600,285.9 604,286.1 608,282.7 612,277.8 616,272.1 620,264.5 624,257.9 628,251.1 632,250.5 636,246.1 640,239.1 644,236.3 648,230.1 652,225.2 656,220.0 660,215.3 664,209.3 668,209.1 672,211.9 676,211.9 680,212.2 684,213.3 688,212.6 692,209.9 696,209.4 700,211.7 704,212.9 708,214.7 712,213.0 716,214.8 720,216.6 724,218.0 728,215.0 732,211.1 736,208.4 740,204.7 744,200.7 748,201.9 752,204.4 756,205.5 760,209.2 764,215.9 768,224.5 772,235.3 776,243.3 780,248.5 784,254.4 788,258.3 792,263.5 796,269.7 800,277.6 804,290.4 808,303.7 812,313.2 816,324.6 820,333.3 824,338.0 828,345.5 832,354.3 836,364.1 840,376.5 844,386.1 848,402.5 852,420.7 856,439.3 860,454.3 864,464.1 868,468.1 872,472.3 876,478.9 880,485.1 884,492.4 888,496.9 892,499.1 896,499.3 900,502.0 904,507.0 908,508.7 912,507.8 916,503.5 920,500.5 924,497.1 928,494.1 932,491.8 936,486.9 940,482.3 944,476.7 948,468.5 952,460.1 956,453.7 960,445.4 964,436.3 968,425.1 972,412.9 976,407.8 980,404.3 984,400.5 988,396.6 992,394.4 996,387.1 1000,378.7 1004,372.9 1008,369.1 1012,363.1 1016,358.0 1020,353.3 1024,349.1 1028,348.6 1032,348.7 1036,347.6 1040,343.5 1044,338.9 1048,336.6 1052,331.1 1056,330.7 1060,329.9 1064,325.7 1068,327.9 1072,333.1 1076,340.1 1080,346.6 1084,353.0 1088,360.4 1092,366.9 1096,368.9 1100,369.2 1104,373.9 1108,376.1 1112,380.2 1116,381.2 1120,385.1 1124,388.4 1128,386.2" fill="none" stroke="#ff0000" stroke-width="1" shape-rendering="crispEdges"/>
<polyline points="4,494.3 8,489.0 12,485.3 16,476.9 20,475.6 24,473.0 28,471.4 32,469.9 36,471.6 40,471.9 44,473.4 48,460.7 52,451.0 56,434.9 60,422.6 64,408.0 68,401.4 72,399.4 76,406.3 80,408.4 84,401.4 88,401.1 92,407.7 96,398.3 100,390.9 104,379.1 108,365.6 112,368.1 116,362.9 120,351.4 124,350.4 128,354.0 132,353.4 136,346.3 140,334.3 144,333.6 148,329.4 152,315.1 156,295.4 160,288.4 164,289.6 168,291.6 172,279.7 176,271.3 180,265.1 184,254.6 188,235.3 192,208.4 196,177.7 200,154.1 204,134.3 208,122.0 212,105.6 216,91.1 220,87.6 224,90.3 228,88.0 232,83.1 236,92.6 240,117.9 244,146.6 248,183.0 252,225.3 256,270.6 260,313.4 264,336.1 268,349.6 272,359.3 276,363.6 280,361.6 284,353.7 288,351.7 292,351.3 296,348.4 300,339.9 304,331.0 308,321.4 312,327.4 316,331.4 320,333.0 324,334.9 328,358.3 332,381.7 336,410.3 340,424.4 344,436.0 348,450.9 352,457.9 356,439.6 360,423.7 364,403.1 368,380.9 372,366.9 376,352.4 380,343.4 384,350.3 388,353.7 392,358.7 396,369.0 400,377.0 404,380.6 408,398.0 412,410.9 416,416.7 420,424.1 424,431.3 428,432.0 432,423.7 436,407.7 440,387.9 444,369.0 448,338.1 452,305.0 456,279.1 460,265.7 464,254.7 468,249.6 472,256.0 476,272.0 480,283.0 484,289.6 488,299.1 492,305.3 496,313.0 500,305.1 504,292.4 508,284.9 512,278.7 516,273.9 520,263.1 524,247.4 528,250.1 532,257.3 536,268.7 540,272.4 544,275.9 548,282.9 552,286.4 556,284.1 560,288.0 564,285.6 568,290.4 572,287.4 576,288.7 580,295.7 584,295.3 588,291.3 592,289.7 596,284.0 600,283.7 604,284.3 608,274.0 612,260.4 616,246.4 620,233.9 624,223.9 628,215.9 632,211.1 636,210.3 640,212.9 644,218.6 648,217.4 652,219.6 656,217.4 660,208.3 664,205.4 668,209.6 672,208.1 676,207.4 680,206.0 684,209.4 688,210.1 692,212.4 696,211.0 700,212.4 704,220.7 708,222.7 712,219.0 716,222.1 720,222.7 724,223.9 728,216.7 732,204.4 736,194.0 740,188.3 744,179.1 748,178.6 752,183.3 756,190.7 760,208.3 764,236.9 768,265.0 772,293.1 776,310.9 780,317.1 784,328.6 788,321.9 792,306.3 796,290.9 800,279.0 804,280.1 808,297.0 812,309.3 816,332.9 820,357.9 824,383.3 828,410.6 832,430.0 836,440.1 840,452.9 844,460.3 848,470.1 852,483.4 856,491.9 860,493.3 864,494.6 868,493.3 872,494.0 876,496.6 880,495.9 884,497.0 888,501.9 892,504.9 896,506.9 900,516.6 904,520.6 908,520.9 912,516.4 916,506.1 920,496.3 924,490.0 928,476.4 932,461.4 936,449.7 940,441.3 944,439.4 948,433.4 952,425.6 956,420.3 960,417.1 964,412.1 968,398.1 972,379.7 976,376.0 980,376.7 984,375.9 988,371.9 992,371.7 996,368.4 1000,368.0 1004,364.6 1008,358.0 1012,345.6 1016,337.6 1020,329.0 1024,330.6 1028,333.7 1032,328.0 1036,329.9 1040,334.6 1044,335.0 1048,336.1 1052,333.3 1056,330.1 1060,327.6 1064,317.7 1068,324.7 1072,333.0 1076,345.1 1080,362.1 1084,378.3 1088,399.1 1092,416.3 1096,417.7 1100,412.0 1104,407.4 1108,399.3 1112,391.6 1116,374.7 1120,366.6 1124,359.4 1128,361.1" fill="none" stroke="#0000cd" stroke-width="1" shape-rendering="crispEdges"/>
</g>
<g shape-rendering="crispEdges">
<rect x="4" y="46" width="1415" height="3" fill="#ff0000"/>
<rect x="4" y="155" width="1415" height="3" fill="#ff0000"/>
<rect x="4" y="293" width="1415" height="3" fill="#00ff00"/>
<rect x="4" y="418" width="1415" height="3" fill="#0000ff"/>
<rect x="4" y="557" width="1415" height="3" fill="#0000ff"/>
</g>
<g shape-rendering="crispEdges" fill="#000">
<rect x="3" y="21" width="1417" height="1"/>
<rect x="3" y="21" width="1" height="540"/>
<rect x="1419" y="21" width="1" height="540"/>
<rect x="3" y="560" width="1417" height="1"/>
<rect x="3" y="562" width="1417" height="1"/>
<rect x="3" y="562" width="1" height="104"/>
<rect x="1419" y="562" width="1" height="104"/>
<rect x="3" y="665" width="1417" height="1"/>
<rect x="3" y="668" width="1417" height="1"/>
<rect x="3" y="668" width="1" height="130"/>
<rect x="1419" y="668" width="1" height="130"/>
<rect x="3" y="797" width="1417" height="1"/>
</g>
<g shape-rendering="crispEdges">
<rect x="3" y="44" width="7" height="7" fill="#ff0000"/><rect x="6" y="47" width="1" height="1" fill="#fff"/>
<rect x="1413" y="44" width="7" height="7" fill="#ff0000"/><rect x="1416" y="47" width="1" height="1" fill="#fff"/>
<rect x="3" y="153" width="7" height="7" fill="#ff0000"/><rect x="6" y="156" width="1" height="1" fill="#fff"/>
<rect x="1413" y="153" width="7" height="7" fill="#ff0000"/><rect x="1416" y="156" width="1" height="1" fill="#fff"/>
<rect x="3" y="291" width="7" height="7" fill="#00ff00"/><rect x="6" y="294" width="1" height="1" fill="#fff"/>
<rect x="1413" y="291" width="7" height="7" fill="#00ff00"/><rect x="1416" y="294" width="1" height="1" fill="#fff"/>
<rect x="3" y="416" width="7" height="7" fill="#0000ff"/><rect x="6" y="419" width="1" height="1" fill="#fff"/>
<rect x="1413" y="416" width="7" height="7" fill="#0000ff"/><rect x="1416" y="419" width="1" height="1" fill="#fff"/>
</g>
<g font-family="Liberation Sans, sans-serif" font-size="9" fill="#000" stroke="#000" stroke-width="0.2">
<rect x="1420" y="29" width="2" height="1" shape-rendering="crispEdges"/>
<text x="1425" y="32.9">1.36880</text>
<rect x="1420" y="62" width="2" height="1" shape-rendering="crispEdges"/>
<text x="1425" y="65.9">1.36450</text>
<rect x="1420" y="95" width="2" height="1" shape-rendering="crispEdges"/>
<text x="1425" y="99.0">1.36020</text>
<rect x="1420" y="128" width="2" height="1" shape-rendering="crispEdges"/>
<text x="1425" y="132.0">1.35600</text>
<rect x="1420" y="161" width="2" height="1" shape-rendering="crispEdges"/>
<text x="1425" y="165.1">1.35170</text>
<rect x="1420" y="194" width="2" height="1" shape-rendering="crispEdges"/>
<text x="1425" y="198.1">1.34740</text>
<rect x="1420" y="227" width="2" height="1" shape-rendering="crispEdges"/>
<text x="1425" y="231.1">1.34310</text>
<rect x="1420" y="260" width="2" height="1" shape-rendering="crispEdges"/>
<text x="1425" y="264.2">1.33880</text>
<rect x="1420" y="294" width="2" height="1" shape-rendering="crispEdges"/>
<text x="1425" y="297.2">1.33450</text>
<rect x="1420" y="327" width="2" height="1" shape-rendering="crispEdges"/>
<text x="1425" y="330.3">1.33020</text>
<rect x="1420" y="360" width="2" height="1" shape-rendering="crispEdges"/>
<text x="1425" y="363.3">1.32590</text>
<rect x="1420" y="393" width="2" height="1" shape-rendering="crispEdges"/>
<text x="1425" y="396.3">1.32160</text>
<rect x="1420" y="426" width="2" height="1" shape-rendering="crispEdges"/>
<text x="1425" y="429.4">1.31730</text>
<rect x="1420" y="459" width="2" height="1" shape-rendering="crispEdges"/>
<text x="1425" y="462.4">1.31300</text>
<rect x="1420" y="492" width="2" height="1" shape-rendering="crispEdges"/>
<text x="1425" y="495.5">1.30870</text>
<rect x="1420" y="525" width="2" height="1" shape-rendering="crispEdges"/>
<text x="1425" y="528.5">1.30440</text>
</g>
<g font-family="Liberation Sans, sans-serif" font-size="9">
<rect x="1421" y="41" width="41" height="11" fill="#ff0000" shape-rendering="crispEdges"/>
<text x="1425" y="49.8" fill="#fff" stroke="#fff" stroke-width="0.2">1.36645</text>
<rect x="1421" y="150" width="41" height="11" fill="#ff0000" shape-rendering="crispEdges"/>
<text x="1425" y="158.8" fill="#fff" stroke="#fff" stroke-width="0.2">1.35237</text>
<rect x="1421" y="288" width="41" height="11" fill="#00ff00" shape-rendering="crispEdges"/>
<text x="1425" y="296.8" fill="#fff" stroke="#fff" stroke-width="0.2">1.33439</text>
<rect x="1421" y="347" width="41" height="11" fill="#000000" shape-rendering="crispEdges"/>
<text x="1425" y="355.8" fill="#fff" stroke="#fff" stroke-width="0.2">1.32674</text>
<rect x="1421" y="413" width="41" height="11" fill="#0000ff" shape-rendering="crispEdges"/>
<text x="1425" y="421.8" fill="#fff" stroke="#fff" stroke-width="0.2">1.31806</text>
<rect x="1421" y="552" width="41" height="11" fill="#0000ff" shape-rendering="crispEdges"/>
<text x="1425" y="560.8" fill="#fff" stroke="#fff" stroke-width="0.2">1.30004</text>
</g>
<g clip-path="url(#cd)" shape-rendering="crispEdges" fill="#c0c0c0">
<rect x="4" y="604" width="1" height="14"/>
<rect x="8" y="603" width="1" height="15"/>
<rect x="12" y="602" width="1" height="16"/>
<rect x="16" y="600" width="1" height="18"/>
<rect x="20" y="601" width="1" height="17"/>
<rect x="24" y="602" width="1" height="16"/>
<rect x="28" y="603" width="1" height="15"/>
<rect x="32" y="603" width="1" height="15"/>
<rect x="36" y="604" width="1" height="14"/>
<rect x="40" y="604" width="1" height="14"/>
<rect x="44" y="603" width="1" height="15"/>
<rect x="48" y="600" width="1" height="18"/>
<rect x="52" y="599" width="1" height="19"/>
<rect x="56" y="595" width="1" height="23"/>
<rect x="60" y="594" width="1" height="24"/>
<rect x="64" y="592" width="1" height="26"/>
<rect x="68" y="594" width="1" height="24"/>
<rect x="72" y="597" width="1" height="21"/>
<rect x="76" y="599" width="1" height="19"/>
<rect x="80" y="600" width="1" height="18"/>
<rect x="84" y="596" width="1" height="22"/>
<rect x="88" y="596" width="1" height="22"/>
<rect x="92" y="598" width="1" height="20"/>
<rect x="96" y="597" width="1" height="21"/>
<rect x="100" y="597" width="1" height="21"/>
<rect x="104" y="597" width="1" height="21"/>
<rect x="108" y="595" width="1" height="23"/>
<rect x="112" y="594" width="1" height="24"/>
<rect x="116" y="594" width="1" height="24"/>
<rect x="120" y="594" width="1" height="24"/>
<rect x="124" y="595" width="1" height="23"/>
<rect x="128" y="599" width="1" height="19"/>
<rect x="132" y="600" width="1" height="18"/>
<rect x="136" y="596" width="1" height="22"/>
<rect x="140" y="593" width="1" height="25"/>
<rect x="144" y="595" width="1" height="23"/>
<rect x="148" y="594" width="1" height="24"/>
<rect x="152" y="592" width="1" height="26"/>
<rect x="156" y="591" width="1" height="27"/>
<rect x="160" y="592" width="1" height="26"/>
<rect x="164" y="593" width="1" height="25"/>
<rect x="168" y="593" width="1" height="25"/>
<rect x="172" y="592" width="1" height="26"/>
<rect x="176" y="591" width="1" height="27"/>
<rect x="180" y="589" width="1" height="29"/>
<rect x="184" y="586" width="1" height="32"/>
<rect x="188" y="584" width="1" height="34"/>
<rect x="192" y="578" width="1" height="40"/>
<rect x="196" y="572" width="1" height="46"/>
<rect x="200" y="569" width="1" height="49"/>
<rect x="204" y="569" width="1" height="49"/>
<rect x="208" y="570" width="1" height="48"/>
<rect x="212" y="569" width="1" height="49"/>
<rect x="216" y="568" width="1" height="50"/>
<rect x="220" y="568" width="1" height="50"/>
<rect x="224" y="569" width="1" height="49"/>
<rect x="228" y="570" width="1" height="48"/>
<rect x="232" y="571" width="1" height="47"/>
<rect x="236" y="579" width="1" height="39"/>
<rect x="240" y="589" width="1" height="29"/>
<rect x="244" y="599" width="1" height="19"/>
<rect x="248" y="609" width="1" height="9"/>
<rect x="252" y="617" width="1" height="4"/>
<rect x="256" y="617" width="1" height="13"/>
<rect x="260" y="617" width="1" height="19"/>
<rect x="264" y="617" width="1" height="23"/>
<rect x="268" y="617" width="1" height="25"/>
<rect x="272" y="617" width="1" height="26"/>
<rect x="276" y="617" width="1" height="28"/>
<rect x="280" y="617" width="1" height="29"/>
<rect x="284" y="617" width="1" height="28"/>
<rect x="288" y="617" width="1" height="28"/>
<rect x="292" y="617" width="1" height="28"/>
<rect x="296" y="617" width="1" height="26"/>
<rect x="300" y="617" width="1" height="22"/>
<rect x="304" y="617" width="1" height="19"/>
<rect x="308" y="617" width="1" height="16"/>
<rect x="312" y="617" width="1" height="19"/>
<rect x="316" y="617" width="1" height="21"/>
<rect x="320" y="617" width="1" height="21"/>
<rect x="324" y="617" width="1" height="20"/>
<rect x="328" y="617" width="1" height="24"/>
<rect x="332" y="617" width="1" height="28"/>
<rect x="336" y="617" width="1" height="33"/>
<rect x="340" y="617" width="1" height="35"/>
<rect x="344" y="617" width="1" height="36"/>
<rect x="348" y="617" width="1" height="36"/>
<rect x="352" y="617" width="1" height="32"/>
<rect x="356" y="617" width="1" height="25"/>
<rect x="360" y="617" width="1" height="20"/>
<rect x="364" y="617" width="1" height="16"/>
<rect x="368" y="617" width="1" height="12"/>
<rect x="372" y="617" width="1" height="11"/>
<rect x="376" y="617" width="1" height="9"/>
<rect x="380" y="617" width="1" height="6"/>
<rect x="384" y="617" width="1" height="6"/>
<rect x="388" y="617" width="1" height="6"/>
<rect x="392" y="617" width="1" height="6"/>
<rect x="396" y="617" width="1" height="7"/>
<rect x="400" y="617" width="1" height="10"/>
<rect x="404" y="617" width="1" height="9"/>
<rect x="408" y="617" width="1" height="13"/>
<rect x="412" y="617" width="1" height="15"/>
<rect x="416" y="617" width="1" height="15"/>
<rect x="420" y="617" width="1" height="15"/>
<rect x="424" y="617" width="1" height="16"/>
<rect x="428" y="617" width="1" height="16"/>
<rect x="432" y="617" width="1" height="10"/>
<rect x="436" y="617" width="1" height="6"/>
<rect x="440" y="617" width="1" height="2"/>
<rect x="444" y="612" width="1" height="6"/>
<rect x="448" y="604" width="1" height="14"/>
<rect x="452" y="598" width="1" height="20"/>
<rect x="456" y="596" width="1" height="22"/>
<rect x="460" y="593" width="1" height="25"/>
<rect x="464" y="593" width="1" height="25"/>
<rect x="468" y="594" width="1" height="24"/>
<rect x="472" y="598" width="1" height="20"/>
<rect x="476" y="601" width="1" height="17"/>
<rect x="480" y="602" width="1" height="16"/>
<rect x="484" y="602" width="1" height="16"/>
<rect x="488" y="603" width="1" height="15"/>
<rect x="492" y="605" width="1" height="13"/>
<rect x="496" y="608" width="1" height="10"/>
<rect x="500" y="607" width="1" height="11"/>
<rect x="504" y="604" width="1" height="14"/>
<rect x="508" y="602" width="1" height="16"/>
<rect x="512" y="602" width="1" height="16"/>
<rect x="516" y="602" width="1" height="16"/>
<rect x="520" y="601" width="1" height="17"/>
<rect x="524" y="600" width="1" height="18"/>
<rect x="528" y="603" width="1" height="15"/>
<rect x="532" y="605" width="1" height="13"/>
<rect x="536" y="608" width="1" height="10"/>
<rect x="540" y="609" width="1" height="9"/>
<rect x="544" y="610" width="1" height="8"/>
<rect x="548" y="611" width="1" height="7"/>
<rect x="552" y="610" width="1" height="8"/>
<rect x="556" y="610" width="1" height="8"/>
<rect x="560" y="613" width="1" height="5"/>
<rect x="564" y="615" width="1" height="3"/>
<rect x="568" y="616" width="1" height="2"/>
<rect x="572" y="615" width="1" height="3"/>
<rect x="576" y="615" width="1" height="3"/>
<rect x="580" y="616" width="1" height="2"/>
<rect x="584" y="616" width="1" height="2"/>
<rect x="588" y="616" width="1" height="2"/>
<rect x="592" y="616" width="1" height="2"/>
<rect x="596" y="616" width="1" height="2"/>
<rect x="600" y="615" width="1" height="3"/>
<rect x="604" y="615" width="1" height="3"/>
<rect x="608" y="613" width="1" height="5"/>
<rect x="612" y="608" width="1" height="10"/>
<rect x="616" y="605" width="1" height="13"/>
<rect x="620" y="603" width="1" height="15"/>
<rect x="624" y="602" width="1" height="16"/>
<rect x="628" y="602" width="1" height="16"/>
<rect x="632" y="604" width="1" height="14"/>
<rect x="636" y="605" width="1" height="13"/>
<rect x="640" y="603" width="1" height="15"/>
<rect x="644" y="605" width="1" height="13"/>
<rect x="648" y="604" width="1" height="14"/>
<rect x="652" y="604" width="1" height="14"/>
<rect x="656" y="604" width="1" height="14"/>
<rect x="660" y="604" width="1" height="14"/>
<rect x="664" y="604" width="1" height="14"/>
<rect x="668" y="606" width="1" height="12"/>
<rect x="672" y="607" width="1" height="11"/>
<rect x="676" y="606" width="1" height="12"/>
<rect x="680" y="607" width="1" height="11"/>
<rect x="684" y="608" width="1" height="10"/>
<rect x="688" y="608" width="1" height="10"/>
<rect x="692" y="609" width="1" height="9"/>
<rect x="696" y="610" width="1" height="8"/>
<rect x="700" y="612" width="1" height="6"/>
<rect x="704" y="614" width="1" height="4"/>
<rect x="708" y="614" width="1" height="4"/>
<rect x="712" y="613" width="1" height="5"/>
<rect x="716" y="614" width="1" height="4"/>
<rect x="720" y="614" width="1" height="4"/>
<rect x="724" y="615" width="1" height="3"/>
<rect x="728" y="613" width="1" height="5"/>
<rect x="732" y="610" width="1" height="8"/>
<rect x="736" y="608" width="1" height="10"/>
<rect x="740" y="606" width="1" height="12"/>
<rect x="744" y="605" width="1" height="13"/>
<rect x="748" y="608" width="1" height="10"/>
<rect x="752" y="612" width="1" height="6"/>
<rect x="756" y="615" width="1" height="3"/>
<rect x="760" y="617" width="1" height="3"/>
<rect x="764" y="617" width="1" height="10"/>
<rect x="768" y="617" width="1" height="16"/>
<rect x="772" y="617" width="1" height="20"/>
<rect x="776" y="617" width="1" height="22"/>
<rect x="780" y="617" width="1" height="22"/>
<rect x="784" y="617" width="1" height="22"/>
<rect x="788" y="617" width="1" height="18"/>
<rect x="792" y="617" width="1" height="14"/>
<rect x="796" y="617" width="1" height="12"/>
<rect x="800" y="617" width="1" height="11"/>
<rect x="804" y="617" width="1" height="15"/>
<rect x="808" y="617" width="1" height="21"/>
<rect x="812" y="617" width="1" height="25"/>
<rect x="816" y="617" width="1" height="28"/>
<rect x="820" y="617" width="1" height="30"/>
<rect x="824" y="617" width="1" height="32"/>
<rect x="828" y="617" width="1" height="36"/>
<rect x="832" y="617" width="1" height="39"/>
<rect x="836" y="617" width="1" height="42"/>
<rect x="840" y="617" width="1" height="44"/>
<rect x="844" y="617" width="1" height="42"/>
<rect x="848" y="617" width="1" height="43"/>
<rect x="852" y="617" width="1" height="44"/>
<rect x="856" y="617" width="1" height="45"/>
<rect x="860" y="617" width="1" height="44"/>
<rect x="864" y="617" width="1" height="43"/>
<rect x="868" y="617" width="1" height="40"/>
<rect x="872" y="617" width="1" height="37"/>
<rect x="876" y="617" width="1" height="36"/>
<rect x="880" y="617" width="1" height="35"/>
<rect x="884" y="617" width="1" height="36"/>
<rect x="888" y="617" width="1" height="35"/>
<rect x="892" y="617" width="1" height="34"/>
<rect x="896" y="617" width="1" height="32"/>
<rect x="900" y="617" width="1" height="31"/>
<rect x="904" y="617" width="1" height="30"/>
<rect x="908" y="617" width="1" height="29"/>
<rect x="912" y="617" width="1" height="26"/>
<rect x="916" y="617" width="1" height="22"/>
<rect x="920" y="617" width="1" height="18"/>
<rect x="924" y="617" width="1" height="14"/>
<rect x="928" y="617" width="1" height="10"/>
<rect x="932" y="617" width="1" height="7"/>
<rect x="936" y="617" width="1" height="4"/>
<rect x="940" y="617" width="1" height="3"/>
<rect x="944" y="617" width="1" height="2"/>
<rect x="948" y="615" width="1" height="3"/>
<rect x="952" y="613" width="1" height="5"/>
<rect x="956" y="610" width="1" height="8"/>
<rect x="960" y="609" width="1" height="9"/>
<rect x="964" y="608" width="1" height="10"/>
<rect x="968" y="604" width="1" height="14"/>
<rect x="972" y="600" width="1" height="18"/>
<rect x="976" y="601" width="1" height="17"/>
<rect x="980" y="602" width="1" height="16"/>
<rect x="984" y="603" width="1" height="15"/>
<rect x="988" y="603" width="1" height="15"/>
<rect x="992" y="604" width="1" height="14"/>
<rect x="996" y="601" width="1" height="17"/>
<rect x="1000" y="599" width="1" height="19"/>
<rect x="1004" y="600" width="1" height="18"/>
<rect x="1008" y="600" width="1" height="18"/>
<rect x="1012" y="598" width="1" height="20"/>
<rect x="1016" y="597" width="1" height="21"/>
<rect x="1020" y="598" width="1" height="20"/>
<rect x="1024" y="598" width="1" height="20"/>
<rect x="1028" y="599" width="1" height="19"/>
<rect x="1032" y="599" width="1" height="19"/>
<rect x="1036" y="602" width="1" height="16"/>
<rect x="1040" y="603" width="1" height="15"/>
<rect x="1044" y="603" width="1" height="15"/>
<rect x="1048" y="604" width="1" height="14"/>
<rect x="1052" y="603" width="1" height="15"/>
<rect x="1056" y="603" width="1" height="15"/>
<rect x="1060" y="603" width="1" height="15"/>
<rect x="1064" y="602" width="1" height="16"/>
<rect x="1068" y="607" width="1" height="11"/>
<rect x="1072" y="610" width="1" height="8"/>
<rect x="1076" y="615" width="1" height="3"/>
<rect x="1080" y="617" width="1" height="4"/>
<rect x="1084" y="617" width="1" height="7"/>
<rect x="1088" y="617" width="1" height="10"/>
<rect x="1092" y="617" width="1" height="11"/>
<rect x="1096" y="617" width="1" height="11"/>
<rect x="1100" y="617" width="1" height="7"/>
<rect x="1104" y="617" width="1" height="8"/>
<rect x="1108" y="617" width="1" height="6"/>
<rect x="1112" y="617" width="1" height="6"/>
<rect x="1116" y="617" width="1" height="2"/>
<rect x="1120" y="617" width="1" height="2"/>
<rect x="1124" y="616" width="1" height="2"/>
<rect x="1128" y="616" width="1" height="2"/>
</g>
<g clip-path="url(#cd)" shape-rendering="crispEdges" fill="#ff0000">
<rect x="4" y="604" width="1" height="1"/>
<rect x="5" y="604" width="1" height="1"/>
<rect x="6" y="604" width="1" height="1"/>
<rect x="10" y="603" width="1" height="1"/>
<rect x="11" y="603" width="1" height="1"/>
<rect x="12" y="603" width="1" height="1"/>
<rect x="16" y="602" width="1" height="1"/>
<rect x="17" y="602" width="1" height="1"/>
<rect x="18" y="602" width="1" height="1"/>
<rect x="22" y="602" width="1" height="1"/>
<rect x="23" y="602" width="1" height="1"/>
<rect x="24" y="602" width="1" height="1"/>
<rect x="28" y="602" width="1" height="1"/>
<rect x="29" y="602" width="1" height="1"/>
<rect x="30" y="602" width="1" height="1"/>
<rect x="34" y="602" width="1" height="1"/>
<rect x="35" y="602" width="1" height="1"/>
<rect x="36" y="602" width="1" height="1"/>
<rect x="40" y="602" width="1" height="1"/>
<rect x="41" y="602" width="1" height="1"/>
<rect x="42" y="602" width="1" height="1"/>
<rect x="46" y="602" width="1" height="1"/>
<rect x="47" y="602" width="1" height="1"/>
<rect x="48" y="602" width="1" height="1"/>
<rect x="52" y="602" width="1" height="1"/>
<rect x="53" y="602" width="1" height="1"/>
<rect x="54" y="602" width="1" height="1"/>
<rect x="58" y="601" width="1" height="1"/>
<rect x="59" y="601" width="1" height="1"/>
<rect x="60" y="600" width="1" height="1"/>
<rect x="64" y="599" width="1" height="1"/>
<rect x="65" y="599" width="1" height="1"/>
<rect x="66" y="599" width="1" height="1"/>
<rect x="70" y="598" width="1" height="1"/>
<rect x="71" y="598" width="1" height="1"/>
<rect x="72" y="598" width="1" height="1"/>
<rect x="76" y="597" width="1" height="1"/>
<rect x="77" y="597" width="1" height="1"/>
<rect x="78" y="597" width="1" height="1"/>
<rect x="82" y="596" width="1" height="1"/>
<rect x="83" y="596" width="1" height="1"/>
<rect x="84" y="596" width="1" height="1"/>
<rect x="88" y="596" width="1" height="1"/>
<rect x="89" y="596" width="1" height="1"/>
<rect x="90" y="596" width="1" height="1"/>
<rect x="94" y="596" width="1" height="1"/>
<rect x="95" y="597" width="1" height="1"/>
<rect x="96" y="597" width="1" height="1"/>
<rect x="100" y="597" width="1" height="1"/>
<rect x="101" y="597" width="1" height="1"/>
<rect x="102" y="597" width="1" height="1"/>
<rect x="106" y="597" width="1" height="1"/>
<rect x="107" y="597" width="1" height="1"/>
<rect x="108" y="597" width="1" height="1"/>
<rect x="112" y="597" width="1" height="1"/>
<rect x="113" y="596" width="1" height="1"/>
<rect x="114" y="596" width="1" height="1"/>
<rect x="118" y="596" width="1" height="1"/>
<rect x="119" y="596" width="1" height="1"/>
<rect x="120" y="596" width="1" height="1"/>
<rect x="124" y="596" width="1" height="1"/>
<rect x="125" y="596" width="1" height="1"/>
<rect x="126" y="596" width="1" height="1"/>
<rect x="130" y="596" width="1" height="1"/>
<rect x="131" y="596" width="1" height="1"/>
<rect x="132" y="596" width="1" height="1"/>
<rect x="136" y="596" width="1" height="1"/>
<rect x="137" y="596" width="1" height="1"/>
<rect x="138" y="596" width="1" height="1"/>
<rect x="142" y="596" width="1" height="1"/>
<rect x="143" y="596" width="1" height="1"/>
<rect x="144" y="596" width="1" height="1"/>
<rect x="148" y="596" width="1" height="1"/>
<rect x="149" y="595" width="1" height="1"/>
<rect x="150" y="595" width="1" height="1"/>
<rect x="154" y="595" width="1" height="1"/>
<rect x="155" y="595" width="1" height="1"/>
<rect x="156" y="595" width="1" height="1"/>
<rect x="160" y="594" width="1" height="1"/>
<rect x="161" y="594" width="1" height="1"/>
<rect x="162" y="594" width="1" height="1"/>
<rect x="166" y="593" width="1" height="1"/>
<rect x="167" y="593" width="1" height="1"/>
<rect x="168" y="593" width="1" height="1"/>
<rect x="172" y="593" width="1" height="1"/>
<rect x="173" y="593" width="1" height="1"/>
<rect x="174" y="592" width="1" height="1"/>
<rect x="178" y="592" width="1" height="1"/>
<rect x="179" y="592" width="1" height="1"/>
<rect x="180" y="592" width="1" height="1"/>
<rect x="184" y="591" width="1" height="1"/>
<rect x="185" y="590" width="1" height="1"/>
<rect x="186" y="590" width="1" height="1"/>
<rect x="190" y="589" width="1" height="1"/>
<rect x="191" y="589" width="1" height="1"/>
<rect x="192" y="588" width="1" height="1"/>
<rect x="196" y="586" width="1" height="1"/>
<rect x="197" y="585" width="1" height="1"/>
<rect x="198" y="584" width="1" height="1"/>
<rect x="202" y="582" width="1" height="1"/>
<rect x="203" y="581" width="1" height="1"/>
<rect x="204" y="581" width="1" height="1"/>
<rect x="208" y="578" width="1" height="1"/>
<rect x="209" y="577" width="1" height="1"/>
<rect x="210" y="577" width="1" height="1"/>
<rect x="214" y="574" width="1" height="1"/>
<rect x="215" y="574" width="1" height="1"/>
<rect x="216" y="573" width="1" height="1"/>
<rect x="220" y="571" width="1" height="1"/>
<rect x="221" y="571" width="1" height="1"/>
<rect x="222" y="571" width="1" height="1"/>
<rect x="226" y="570" width="1" height="1"/>
<rect x="227" y="569" width="1" height="1"/>
<rect x="228" y="569" width="1" height="1"/>
<rect x="232" y="569" width="1" height="1"/>
<rect x="233" y="570" width="1" height="1"/>
<rect x="234" y="570" width="1" height="1"/>
<rect x="238" y="571" width="1" height="1"/>
<rect x="239" y="572" width="1" height="1"/>
<rect x="240" y="573" width="1" height="1"/>
<rect x="244" y="576" width="1" height="1"/>
<rect x="245" y="577" width="1" height="1"/>
<rect x="246" y="578" width="1" height="1"/>
<rect x="250" y="583" width="1" height="2"/>
<rect x="251" y="585" width="1" height="1"/>
<rect x="252" y="586" width="1" height="2"/>
<rect x="256" y="593" width="1" height="2"/>
<rect x="257" y="595" width="1" height="2"/>
<rect x="258" y="597" width="1" height="1"/>
<rect x="262" y="604" width="1" height="2"/>
<rect x="263" y="606" width="1" height="2"/>
<rect x="264" y="608" width="1" height="2"/>
<rect x="268" y="616" width="1" height="1"/>
<rect x="269" y="617" width="1" height="2"/>
<rect x="270" y="619" width="1" height="2"/>
<rect x="274" y="626" width="1" height="1"/>
<rect x="275" y="627" width="1" height="2"/>
<rect x="276" y="629" width="1" height="1"/>
<rect x="280" y="634" width="1" height="1"/>
<rect x="281" y="635" width="1" height="1"/>
<rect x="282" y="636" width="1" height="1"/>
<rect x="286" y="639" width="1" height="1"/>
<rect x="287" y="640" width="1" height="1"/>
<rect x="288" y="640" width="1" height="1"/>
<rect x="292" y="642" width="1" height="1"/>
<rect x="293" y="642" width="1" height="1"/>
<rect x="294" y="642" width="1" height="1"/>
<rect x="298" y="643" width="1" height="1"/>
<rect x="299" y="643" width="1" height="1"/>
<rect x="300" y="642" width="1" height="1"/>
<rect x="304" y="642" width="1" height="1"/>
<rect x="305" y="641" width="1" height="1"/>
<rect x="306" y="641" width="1" height="1"/>
<rect x="310" y="640" width="1" height="1"/>
<rect x="311" y="640" width="1" height="1"/>
<rect x="312" y="640" width="1" height="1"/>
<rect x="316" y="639" width="1" height="1"/>
<rect x="317" y="638" width="1" height="1"/>
<rect x="318" y="638" width="1" height="1"/>
<rect x="322" y="637" width="1" height="1"/>
<rect x="323" y="637" width="1" height="1"/>
<rect x="324" y="637" width="1" height="1"/>
<rect x="328" y="637" width="1" height="1"/>
<rect x="329" y="637" width="1" height="1"/>
<rect x="330" y="637" width="1" height="1"/>
<rect x="334" y="638" width="1" height="1"/>
<rect x="335" y="638" width="1" height="1"/>
<rect x="336" y="638" width="1" height="1"/>
<rect x="340" y="640" width="1" height="1"/>
<rect x="341" y="641" width="1" height="1"/>
<rect x="342" y="641" width="1" height="1"/>
<rect x="346" y="643" width="1" height="1"/>
<rect x="347" y="644" width="1" height="1"/>
<rect x="348" y="644" width="1" height="1"/>
<rect x="352" y="646" width="1" height="1"/>
<rect x="353" y="646" width="1" height="1"/>
<rect x="354" y="646" width="1" height="1"/>
<rect x="358" y="646" width="1" height="1"/>
<rect x="359" y="646" width="1" height="1"/>
<rect x="360" y="646" width="1" height="1"/>
<rect x="364" y="645" width="1" height="1"/>
<rect x="365" y="644" width="1" height="1"/>
<rect x="366" y="644" width="1" height="1"/>
<rect x="370" y="641" width="1" height="1"/>
<rect x="371" y="641" width="1" height="1"/>
<rect x="372" y="640" width="1" height="1"/>
<rect x="376" y="637" width="1" height="1"/>
<rect x="377" y="636" width="1" height="1"/>
<rect x="378" y="635" width="1" height="1"/>
<rect x="382" y="632" width="1" height="1"/>
<rect x="383" y="631" width="1" height="1"/>
<rect x="384" y="630" width="1" height="1"/>
<rect x="388" y="628" width="1" height="1"/>
<rect x="389" y="627" width="1" height="1"/>
<rect x="390" y="627" width="1" height="1"/>
<rect x="394" y="625" width="1" height="1"/>
<rect x="395" y="625" width="1" height="1"/>
<rect x="396" y="625" width="1" height="1"/>
<rect x="400" y="624" width="1" height="1"/>
<rect x="401" y="624" width="1" height="1"/>
<rect x="402" y="624" width="1" height="1"/>
<rect x="406" y="624" width="1" height="1"/>
<rect x="407" y="624" width="1" height="1"/>
<rect x="408" y="624" width="1" height="1"/>
<rect x="412" y="625" width="1" height="1"/>
<rect x="413" y="625" width="1" height="1"/>
<rect x="414" y="625" width="1" height="1"/>
<rect x="418" y="626" width="1" height="1"/>
<rect x="419" y="626" width="1" height="1"/>
<rect x="420" y="627" width="1" height="1"/>
<rect x="424" y="628" width="1" height="1"/>
<rect x="425" y="628" width="1" height="1"/>
<rect x="426" y="628" width="1" height="1"/>
<rect x="430" y="629" width="1" height="1"/>
<rect x="431" y="629" width="1" height="1"/>
<rect x="432" y="629" width="1" height="1"/>
<rect x="436" y="629" width="1" height="1"/>
<rect x="437" y="628" width="1" height="1"/>
<rect x="438" y="628" width="1" height="1"/>
<rect x="442" y="627" width="1" height="1"/>
<rect x="443" y="626" width="1" height="1"/>
<rect x="444" y="625" width="1" height="1"/>
<rect x="448" y="622" width="1" height="1"/>
<rect x="449" y="621" width="1" height="1"/>
<rect x="450" y="621" width="1" height="1"/>
<rect x="454" y="617" width="1" height="1"/>
<rect x="455" y="616" width="1" height="1"/>
<rect x="456" y="615" width="1" height="1"/>
<rect x="460" y="610" width="1" height="1"/>
<rect x="461" y="609" width="1" height="1"/>
<rect x="462" y="608" width="1" height="1"/>
<rect x="466" y="604" width="1" height="1"/>
<rect x="467" y="603" width="1" height="1"/>
<rect x="468" y="603" width="1" height="1"/>
<rect x="472" y="600" width="1" height="1"/>
<rect x="473" y="600" width="1" height="1"/>
<rect x="474" y="599" width="1" height="1"/>
<rect x="478" y="598" width="1" height="1"/>
<rect x="479" y="598" width="1" height="1"/>
<rect x="480" y="598" width="1" height="1"/>
<rect x="484" y="597" width="1" height="1"/>
<rect x="485" y="598" width="1" height="1"/>
<rect x="486" y="598" width="1" height="1"/>
<rect x="490" y="598" width="1" height="1"/>
<rect x="491" y="599" width="1" height="1"/>
<rect x="492" y="599" width="1" height="1"/>
<rect x="496" y="601" width="1" height="1"/>
<rect x="497" y="601" width="1" height="1"/>
<rect x="498" y="601" width="1" height="1"/>
<rect x="502" y="603" width="1" height="1"/>
<rect x="503" y="603" width="1" height="1"/>
<rect x="504" y="603" width="1" height="1"/>
<rect x="508" y="604" width="1" height="1"/>
<rect x="509" y="604" width="1" height="1"/>
<rect x="510" y="604" width="1" height="1"/>
<rect x="514" y="604" width="1" height="1"/>
<rect x="515" y="604" width="1" height="1"/>
<rect x="516" y="604" width="1" height="1"/>
<rect x="520" y="604" width="1" height="1"/>
<rect x="521" y="603" width="1" height="1"/>
<rect x="522" y="603" width="1" height="1"/>
<rect x="526" y="603" width="1" height="1"/>
<rect x="527" y="603" width="1" height="1"/>
<rect x="528" y="603" width="1" height="1"/>
<rect x="532" y="603" width="1" height="1"/>
<rect x="533" y="603" width="1" height="1"/>
<rect x="534" y="603" width="1" height="1"/>
<rect x="538" y="603" width="1" height="1"/>
<rect x="539" y="603" width="1" height="1"/>
<rect x="540" y="603" width="1" height="1"/>
<rect x="544" y="604" width="1" height="1"/>
<rect x="545" y="605" width="1" height="1"/>
<rect x="546" y="605" width="1" height="1"/>
<rect x="550" y="606" width="1" height="1"/>
<rect x="551" y="606" width="1" height="1"/>
<rect x="552" y="606" width="1" height="1"/>
<rect x="556" y="607" width="1" height="1"/>
<rect x="557" y="608" width="1" height="1"/>
<rect x="558" y="608" width="1" height="1"/>
<rect x="562" y="609" width="1" height="1"/>
<rect x="563" y="610" width="1" height="1"/>
<rect x="564" y="610" width="1" height="1"/>
<rect x="568" y="611" width="1" height="1"/>
<rect x="569" y="612" width="1" height="1"/>
<rect x="570" y="612" width="1" height="1"/>
<rect x="574" y="613" width="1" height="1"/>
<rect x="575" y="613" width="1" height="1"/>
<rect x="576" y="613" width="1" height="1"/>
<rect x="580" y="614" width="1" height="1"/>
<rect x="581" y="614" width="1" height="1"/>
<rect x="582" y="614" width="1" height="1"/>
<rect x="586" y="614" width="1" height="1"/>
<rect x="587" y="615" width="1" height="1"/>
<rect x="588" y="615" width="1" height="1"/>
<rect x="592" y="615" width="1" height="1"/>
<rect x="593" y="615" width="1" height="1"/>
<rect x="594" y="616" width="1" height="1"/>
<rect x="598" y="616" width="1" height="1"/>
<rect x="599" y="616" width="1" height="1"/>
<rect x="600" y="616" width="1" height="1"/>
<rect x="604" y="616" width="1" height="1"/>
<rect x="605" y="615" width="1" height="1"/>
<rect x="606" y="615" width="1" height="1"/>
<rect x="610" y="615" width="1" height="1"/>
<rect x="611" y="614" width="1" height="1"/>
<rect x="612" y="614" width="1" height="1"/>
<rect x="616" y="613" width="1" height="1"/>
<rect x="617" y="612" width="1" height="1"/>
<rect x="618" y="612" width="1" height="1"/>
<rect x="622" y="611" width="1" height="1"/>
<rect x="623" y="610" width="1" height="1"/>
<rect x="624" y="610" width="1" height="1"/>
<rect x="628" y="608" width="1" height="1"/>
<rect x="629" y="608" width="1" height="1"/>
<rect x="630" y="608" width="1" height="1"/>
<rect x="634" y="607" width="1" height="1"/>
<rect x="635" y="606" width="1" height="1"/>
<rect x="636" y="606" width="1" height="1"/>
<rect x="640" y="605" width="1" height="1"/>
<rect x="641" y="604" width="1" height="1"/>
<rect x="642" y="604" width="1" height="1"/>
<rect x="646" y="604" width="1" height="1"/>
<rect x="647" y="604" width="1" height="1"/>
<rect x="648" y="604" width="1" height="1"/>
<rect x="652" y="604" width="1" height="1"/>
<rect x="653" y="604" width="1" height="1"/>
<rect x="654" y="604" width="1" height="1"/>
<rect x="658" y="604" width="1" height="1"/>
<rect x="659" y="604" width="1" height="1"/>
<rect x="660" y="604" width="1" height="1"/>
<rect x="664" y="604" width="1" height="1"/>
<rect x="665" y="604" width="1" height="1"/>
<rect x="666" y="604" width="1" height="1"/>
<rect x="670" y="604" width="1" height="1"/>
<rect x="671" y="604" width="1" height="1"/>
<rect x="672" y="604" width="1" height="1"/>
<rect x="676" y="605" width="1" height="1"/>
<rect x="677" y="605" width="1" height="1"/>
<rect x="678" y="605" width="1" height="1"/>
<rect x="682" y="605" width="1" height="1"/>
<rect x="683" y="605" width="1" height="1"/>
<rect x="684" y="606" width="1" height="1"/>
<rect x="688" y="606" width="1" height="1"/>
<rect x="689" y="606" width="1" height="1"/>
<rect x="690" y="606" width="1" height="1"/>
<rect x="694" y="607" width="1" height="1"/>
<rect x="695" y="607" width="1" height="1"/>
<rect x="696" y="607" width="1" height="1"/>
<rect x="700" y="608" width="1" height="1"/>
<rect x="701" y="608" width="1" height="1"/>
<rect x="702" y="609" width="1" height="1"/>
<rect x="706" y="609" width="1" height="1"/>
<rect x="707" y="610" width="1" height="1"/>
<rect x="708" y="610" width="1" height="1"/>
<rect x="712" y="611" width="1" height="1"/>
<rect x="713" y="611" width="1" height="1"/>
<rect x="714" y="611" width="1" height="1"/>
<rect x="718" y="612" width="1" height="1"/>
<rect x="719" y="612" width="1" height="1"/>
<rect x="720" y="612" width="1" height="1"/>
<rect x="724" y="613" width="1" height="1"/>
<rect x="725" y="613" width="1" height="1"/>
<rect x="726" y="613" width="1" height="1"/>
<rect x="730" y="613" width="1" height="1"/>
<rect x="731" y="613" width="1" height="1"/>
<rect x="732" y="613" width="1" height="1"/>
<rect x="736" y="613" width="1" height="1"/>
<rect x="737" y="612" width="1" height="1"/>
<rect x="738" y="612" width="1" height="1"/>
<rect x="742" y="611" width="1" height="1"/>
<rect x="743" y="611" width="1" height="1"/>
<rect x="744" y="611" width="1" height="1"/>
<rect x="748" y="610" width="1" height="1"/>
<rect x="749" y="610" width="1" height="1"/>
<rect x="750" y="610" width="1" height="1"/>
<rect x="754" y="610" width="1" height="1"/>
<rect x="755" y="610" width="1" height="1"/>
<rect x="756" y="610" width="1" height="1"/>
<rect x="760" y="611" width="1" height="1"/>
<rect x="761" y="611" width="1" height="1"/>
<rect x="762" y="612" width="1" height="1"/>
<rect x="766" y="613" width="1" height="1"/>
<rect x="767" y="614" width="1" height="1"/>
<rect x="768" y="615" width="1" height="1"/>
<rect x="772" y="618" width="1" height="1"/>
<rect x="773" y="619" width="1" height="1"/>
<rect x="774" y="620" width="1" height="1"/>
<rect x="778" y="623" width="1" height="1"/>
<rect x="779" y="624" width="1" height="1"/>
<rect x="780" y="625" width="1" height="1"/>
<rect x="784" y="628" width="1" height="1"/>
<rect x="785" y="629" width="1" height="1"/>
<rect x="786" y="629" width="1" height="1"/>
<rect x="790" y="631" width="1" height="1"/>
<rect x="791" y="632" width="1" height="1"/>
<rect x="792" y="632" width="1" height="1"/>
<rect x="796" y="633" width="1" height="1"/>
<rect x="797" y="633" width="1" height="1"/>
<rect x="798" y="633" width="1" height="1"/>
<rect x="802" y="633" width="1" height="1"/>
<rect x="803" y="633" width="1" height="1"/>
<rect x="804" y="633" width="1" height="1"/>
<rect x="808" y="633" width="1" height="1"/>
<rect x="809" y="633" width="1" height="1"/>
<rect x="810" y="634" width="1" height="1"/>
<rect x="814" y="634" width="1" height="1"/>
<rect x="815" y="634" width="1" height="1"/>
<rect x="816" y="634" width="1" height="1"/>
<rect x="820" y="635" width="1" height="1"/>
<rect x="821" y="636" width="1" height="1"/>
<rect x="822" y="636" width="1" height="1"/>
<rect x="826" y="638" width="1" height="1"/>
<rect x="827" y="639" width="1" height="1"/>
<rect x="828" y="639" width="1" height="1"/>
<rect x="832" y="642" width="1" height="1"/>
<rect x="833" y="643" width="1" height="1"/>
<rect x="834" y="644" width="1" height="1"/>
<rect x="838" y="647" width="1" height="1"/>
<rect x="839" y="648" width="1" height="1"/>
<rect x="840" y="649" width="1" height="1"/>
<rect x="844" y="651" width="1" height="1"/>
<rect x="845" y="652" width="1" height="1"/>
<rect x="846" y="652" width="1" height="1"/>
<rect x="850" y="654" width="1" height="1"/>
<rect x="851" y="655" width="1" height="1"/>
<rect x="852" y="655" width="1" height="1"/>
<rect x="856" y="657" width="1" height="1"/>
<rect x="857" y="657" width="1" height="1"/>
<rect x="858" y="657" width="1" height="1"/>
<rect x="862" y="658" width="1" height="1"/>
<rect x="863" y="659" width="1" height="1"/>
<rect x="864" y="659" width="1" height="1"/>
<rect x="868" y="659" width="1" height="1"/>
<rect x="869" y="659" width="1" height="1"/>
<rect x="870" y="659" width="1" height="1"/>
<rect x="874" y="658" width="1" height="1"/>
<rect x="875" y="658" width="1" height="1"/>
<rect x="876" y="657" width="1" height="1"/>
<rect x="880" y="657" width="1" height="1"/>
<rect x="881" y="656" width="1" height="1"/>
<rect x="882" y="656" width="1" height="1"/>
<rect x="886" y="655" width="1" height="1"/>
<rect x="887" y="655" width="1" height="1"/>
<rect x="888" y="655" width="1" height="1"/>
<rect x="892" y="653" width="1" height="1"/>
<rect x="893" y="653" width="1" height="1"/>
<rect x="894" y="653" width="1" height="1"/>
<rect x="898" y="651" width="1" height="1"/>
<rect x="899" y="651" width="1" height="1"/>
<rect x="900" y="651" width="1" height="1"/>
<rect x="904" y="650" width="1" height="1"/>
<rect x="905" y="650" width="1" height="1"/>
<rect x="906" y="649" width="1" height="1"/>
<rect x="910" y="648" width="1" height="1"/>
<rect x="911" y="648" width="1" height="1"/>
<rect x="912" y="648" width="1" height="1"/>
<rect x="916" y="646" width="1" height="1"/>
<rect x="917" y="646" width="1" height="1"/>
<rect x="918" y="645" width="1" height="1"/>
<rect x="922" y="643" width="1" height="1"/>
<rect x="923" y="642" width="1" height="1"/>
<rect x="924" y="642" width="1" height="1"/>
<rect x="928" y="639" width="1" height="1"/>
<rect x="929" y="638" width="1" height="1"/>
<rect x="930" y="637" width="1" height="1"/>
<rect x="934" y="635" width="1" height="1"/>
<rect x="935" y="634" width="1" height="1"/>
<rect x="936" y="633" width="1" height="1"/>
<rect x="940" y="630" width="1" height="1"/>
<rect x="941" y="629" width="1" height="1"/>
<rect x="942" y="629" width="1" height="1"/>
<rect x="946" y="626" width="1" height="1"/>
<rect x="947" y="625" width="1" height="1"/>
<rect x="948" y="624" width="1" height="1"/>
<rect x="952" y="621" width="1" height="1"/>
<rect x="953" y="621" width="1" height="1"/>
<rect x="954" y="620" width="1" height="1"/>
<rect x="958" y="618" width="1" height="1"/>
<rect x="959" y="617" width="1" height="1"/>
<rect x="960" y="617" width="1" height="1"/>
<rect x="964" y="615" width="1" height="1"/>
<rect x="965" y="614" width="1" height="1"/>
<rect x="966" y="614" width="1" height="1"/>
<rect x="970" y="611" width="1" height="1"/>
<rect x="971" y="611" width="1" height="1"/>
<rect x="972" y="610" width="1" height="1"/>
<rect x="976" y="608" width="1" height="1"/>
<rect x="977" y="608" width="1" height="1"/>
<rect x="978" y="607" width="1" height="1"/>
<rect x="982" y="606" width="1" height="1"/>
<rect x="983" y="606" width="1" height="1"/>
<rect x="984" y="605" width="1" height="1"/>
<rect x="988" y="604" width="1" height="1"/>
<rect x="989" y="604" width="1" height="1"/>
<rect x="990" y="604" width="1" height="1"/>
<rect x="994" y="603" width="1" height="1"/>
<rect x="995" y="603" width="1" height="1"/>
<rect x="996" y="603" width="1" height="1"/>
<rect x="1000" y="602" width="1" height="1"/>
<rect x="1001" y="602" width="1" height="1"/>
<rect x="1002" y="602" width="1" height="1"/>
<rect x="1006" y="601" width="1" height="1"/>
<rect x="1007" y="601" width="1" height="1"/>
<rect x="1008" y="601" width="1" height="1"/>
<rect x="1012" y="601" width="1" height="1"/>
<rect x="1013" y="601" width="1" height="1"/>
<rect x="1014" y="601" width="1" height="1"/>
<rect x="1018" y="600" width="1" height="1"/>
<rect x="1019" y="600" width="1" height="1"/>
<rect x="1020" y="600" width="1" height="1"/>
<rect x="1024" y="599" width="1" height="1"/>
<rect x="1025" y="599" width="1" height="1"/>
<rect x="1026" y="599" width="1" height="1"/>
<rect x="1030" y="599" width="1" height="1"/>
<rect x="1031" y="599" width="1" height="1"/>
<rect x="1032" y="599" width="1" height="1"/>
<rect x="1036" y="599" width="1" height="1"/>
<rect x="1037" y="599" width="1" height="1"/>
<rect x="1038" y="599" width="1" height="1"/>
<rect x="1042" y="600" width="1" height="1"/>
<rect x="1043" y="600" width="1" height="1"/>
<rect x="1044" y="600" width="1" height="1"/>
<rect x="1048" y="600" width="1" height="1"/>
<rect x="1049" y="601" width="1" height="1"/>
<rect x="1050" y="601" width="1" height="1"/>
<rect x="1054" y="601" width="1" height="1"/>
<rect x="1055" y="601" width="1" height="1"/>
<rect x="1056" y="602" width="1" height="1"/>
<rect x="1060" y="602" width="1" height="1"/>
<rect x="1061" y="602" width="1" height="1"/>
<rect x="1062" y="602" width="1" height="1"/>
<rect x="1066" y="603" width="1" height="1"/>
<rect x="1067" y="603" width="1" height="1"/>
<rect x="1068" y="603" width="1" height="1"/>
<rect x="1072" y="604" width="1" height="1"/>
<rect x="1073" y="604" width="1" height="1"/>
<rect x="1074" y="605" width="1" height="1"/>
<rect x="1078" y="606" width="1" height="1"/>
<rect x="1079" y="607" width="1" height="1"/>
<rect x="1080" y="607" width="1" height="1"/>
<rect x="1084" y="609" width="1" height="1"/>
<rect x="1085" y="610" width="1" height="1"/>
<rect x="1086" y="611" width="1" height="1"/>
<rect x="1090" y="613" width="1" height="1"/>
<rect x="1091" y="614" width="1" height="1"/>
<rect x="1092" y="615" width="1" height="1"/>
<rect x="1096" y="617" width="1" height="1"/>
<rect x="1097" y="618" width="1" height="1"/>
<rect x="1098" y="619" width="1" height="1"/>
<rect x="1102" y="621" width="1" height="1"/>
<rect x="1103" y="621" width="1" height="1"/>
<rect x="1104" y="622" width="1" height="1"/>
<rect x="1108" y="623" width="1" height="1"/>
<rect x="1109" y="623" width="1" height="1"/>
<rect x="1110" y="623" width="1" height="1"/>
<rect x="1114" y="624" width="1" height="1"/>
<rect x="1115" y="624" width="1" height="1"/>
<rect x="1116" y="624" width="1" height="1"/>
<rect x="1120" y="623" width="1" height="1"/>
<rect x="1121" y="623" width="1" height="1"/>
<rect x="1122" y="622" width="1" height="1"/>
<rect x="1126" y="621" width="1" height="1"/>
<rect x="1127" y="621" width="1" height="1"/>
</g>
<g font-family="Liberation Sans, sans-serif" font-size="9" fill="#000" stroke="#000" stroke-width="0.2">
<text x="8" y="574" font-size="9.3">MACD(12,26,9) 0.000384 -0.000606</text>
<rect x="1420" y="564" width="2" height="1" shape-rendering="crispEdges"/>
<text x="1424" y="572.5">0.010311</text>
<text x="1424" y="620.3">0.00</text>
<text x="1424" y="662">-0.009203</text>
</g>
<g shape-rendering="crispEdges" fill="#c0c0c0">
<rect x="5" y="707" width="3" height="1"/>
<rect x="11" y="707" width="3" height="1"/>
<rect x="17" y="707" width="3" height="1"/>
<rect x="23" y="707" width="3" height="1"/>
<rect x="29" y="707" width="3" height="1"/>
<rect x="35" y="707" width="3" height="1"/>
<rect x="41" y="707" width="3" height="1"/>
<rect x="47" y="707" width="3" height="1"/>
<rect x="53" y="707" width="3" height="1"/>
<rect x="59" y="707" width="3" height="1"/>
<rect x="65" y="707" width="3" height="1"/>
<rect x="71" y="707" width="3" height="1"/>
<rect x="77" y="707" width="3" height="1"/>
<rect x="83" y="707" width="3" height="1"/>
<rect x="89" y="707" width="3" height="1"/>
<rect x="95" y="707" width="3" height="1"/>
<rect x="101" y="707" width="3" height="1"/>
<rect x="107" y="707" width="3" height="1"/>
<rect x="113" y="707" width="3" height="1"/>
<rect x="119" y="707" width="3" height="1"/>
<rect x="125" y="707" width="3" height="1"/>
<rect x="131" y="707" width="3" height="1"/>
<rect x="137" y="707" width="3" height="1"/>
<rect x="143" y="707" width="3" height="1"/>
<rect x="149" y="707" width="3" height="1"/>
<rect x="155" y="707" width="3" height="1"/>
<rect x="161" y="707" width="3" height="1"/>
<rect x="167" y="707" width="3" height="1"/>
<rect x="173" y="707" width="3" height="1"/>
<rect x="179" y="707" width="3" height="1"/>
<rect x="185" y="707" width="3" height="1"/>
<rect x="191" y="707" width="3" height="1"/>
<rect x="197" y="707" width="3" height="1"/>
<rect x="203" y="707" width="3" height="1"/>
<rect x="209" y="707" width="3" height="1"/>
<rect x="215" y="707" width="3" height="1"/>
<rect x="221" y="707" width="3" height="1"/>
<rect x="227" y="707" width="3" height="1"/>
<rect x="233" y="707" width="3" height="1"/>
<rect x="239" y="707" width="3" height="1"/>
<rect x="245" y="707" width="3" height="1"/>
<rect x="251" y="707" width="3" height="1"/>
<rect x="257" y="707" width="3" height="1"/>
<rect x="263" y="707" width="3" height="1"/>
<rect x="269" y="707" width="3" height="1"/>
<rect x="275" y="707" width="3" height="1"/>
<rect x="281" y="707" width="3" height="1"/>
<rect x="287" y="707" width="3" height="1"/>
<rect x="293" y="707" width="3" height="1"/>
<rect x="299" y="707" width="3" height="1"/>
<rect x="305" y="707" width="3" height="1"/>
<rect x="311" y="707" width="3" height="1"/>
<rect x="317" y="707" width="3" height="1"/>
<rect x="323" y="707" width="3" height="1"/>
<rect x="329" y="707" width="3" height="1"/>
<rect x="335" y="707" width="3" height="1"/>
<rect x="341" y="707" width="3" height="1"/>
<rect x="347" y="707" width="3" height="1"/>
<rect x="353" y="707" width="3" height="1"/>
<rect x="359" y="707" width="3" height="1"/>
<rect x="365" y="707" width="3" height="1"/>
<rect x="371" y="707" width="3" height="1"/>
<rect x="377" y="707" width="3" height="1"/>
<rect x="383" y="707" width="3" height="1"/>
<rect x="389" y="707" width="3" height="1"/>
<rect x="395" y="707" width="3" height="1"/>
<rect x="401" y="707" width="3" height="1"/>
<rect x="407" y="707" width="3" height="1"/>
<rect x="413" y="707" width="3" height="1"/>
<rect x="419" y="707" width="3" height="1"/>
<rect x="425" y="707" width="3" height="1"/>
<rect x="431" y="707" width="3" height="1"/>
<rect x="437" y="707" width="3" height="1"/>
<rect x="443" y="707" width="3" height="1"/>
<rect x="449" y="707" width="3" height="1"/>
<rect x="455" y="707" width="3" height="1"/>
<rect x="461" y="707" width="3" height="1"/>
<rect x="467" y="707" width="3" height="1"/>
<rect x="473" y="707" width="3" height="1"/>
<rect x="479" y="707" width="3" height="1"/>
<rect x="485" y="707" width="3" height="1"/>
<rect x="491" y="707" width="3" height="1"/>
<rect x="497" y="707" width="3" height="1"/>
<rect x="503" y="707" width="3" height="1"/>
<rect x="509" y="707" width="3" height="1"/>
<rect x="515" y="707" width="3" height="1"/>
<rect x="521" y="707" width="3" height="1"/>
<rect x="527" y="707" width="3" height="1"/>
<rect x="533" y="707" width="3" height="1"/>
<rect x="539" y="707" width="3" height="1"/>
<rect x="545" y="707" width="3" height="1"/>
<rect x="551" y="707" width="3" height="1"/>
<rect x="557" y="707" width="3" height="1"/>
<rect x="563" y="707" width="3" height="1"/>
<rect x="569" y="707" width="3" height="1"/>
<rect x="575" y="707" width="3" height="1"/>
<rect x="581" y="707" width="3" height="1"/>
<rect x="587" y="707" width="3" height="1"/>
<rect x="593" y="707" width="3" height="1"/>
<rect x="599" y="707" width="3" height="1"/>
<rect x="605" y="707" width="3" height="1"/>
<rect x="611" y="707" width="3" height="1"/>
<rect x="617" y="707" width="3" height="1"/>
<rect x="623" y="707" width="3" height="1"/>
<rect x="629" y="707" width="3" height="1"/>
<rect x="635" y="707" width="3" height="1"/>
<rect x="641" y="707" width="3" height="1"/>
<rect x="647" y="707" width="3" height="1"/>
<rect x="653" y="707" width="3" height="1"/>
<rect x="659" y="707" width="3" height="1"/>
<rect x="665" y="707" width="3" height="1"/>
<rect x="671" y="707" width="3" height="1"/>
<rect x="677" y="707" width="3" height="1"/>
<rect x="683" y="707" width="3" height="1"/>
<rect x="689" y="707" width="3" height="1"/>
<rect x="695" y="707" width="3" height="1"/>
<rect x="701" y="707" width="3" height="1"/>
<rect x="707" y="707" width="3" height="1"/>
<rect x="713" y="707" width="3" height="1"/>
<rect x="719" y="707" width="3" height="1"/>
<rect x="725" y="707" width="3" height="1"/>
<rect x="731" y="707" width="3" height="1"/>
<rect x="737" y="707" width="3" height="1"/>
<rect x="743" y="707" width="3" height="1"/>
<rect x="749" y="707" width="3" height="1"/>
<rect x="755" y="707" width="3" height="1"/>
<rect x="761" y="707" width="3" height="1"/>
<rect x="767" y="707" width="3" height="1"/>
<rect x="773" y="707" width="3" height="1"/>
<rect x="779" y="707" width="3" height="1"/>
<rect x="785" y="707" width="3" height="1"/>
<rect x="791" y="707" width="3" height="1"/>
<rect x="797" y="707" width="3" height="1"/>
<rect x="803" y="707" width="3" height="1"/>
<rect x="809" y="707" width="3" height="1"/>
<rect x="815" y="707" width="3" height="1"/>
<rect x="821" y="707" width="3" height="1"/>
<rect x="827" y="707" width="3" height="1"/>
<rect x="833" y="707" width="3" height="1"/>
<rect x="839" y="707" width="3" height="1"/>
<rect x="845" y="707" width="3" height="1"/>
<rect x="851" y="707" width="3" height="1"/>
<rect x="857" y="707" width="3" height="1"/>
<rect x="863" y="707" width="3" height="1"/>
<rect x="869" y="707" width="3" height="1"/>
<rect x="875" y="707" width="3" height="1"/>
<rect x="881" y="707" width="3" height="1"/>
<rect x="887" y="707" width="3" height="1"/>
<rect x="893" y="707" width="3" height="1"/>
<rect x="899" y="707" width="3" height="1"/>
<rect x="905" y="707" width="3" height="1"/>
<rect x="911" y="707" width="3" height="1"/>
<rect x="917" y="707" width="3" height="1"/>
<rect x="923" y="707" width="3" height="1"/>
<rect x="929" y="707" width="3" height="1"/>
<rect x="935" y="707" width="3" height="1"/>
<rect x="941" y="707" width="3" height="1"/>
<rect x="947" y="707" width="3" height="1"/>
<rect x="953" y="707" width="3" height="1"/>
<rect x="959" y="707" width="3" height="1"/>
<rect x="965" y="707" width="3" height="1"/>
<rect x="971" y="707" width="3" height="1"/>
<rect x="977" y="707" width="3" height="1"/>
<rect x="983" y="707" width="3" height="1"/>
<rect x="989" y="707" width="3" height="1"/>
<rect x="995" y="707" width="3" height="1"/>
<rect x="1001" y="707" width="3" height="1"/>
<rect x="1007" y="707" width="3" height="1"/>
<rect x="1013" y="707" width="3" height="1"/>
<rect x="1019" y="707" width="3" height="1"/>
<rect x="1025" y="707" width="3" height="1"/>
<rect x="1031" y="707" width="3" height="1"/>
<rect x="1037" y="707" width="3" height="1"/>
<rect x="1043" y="707" width="3" height="1"/>
<rect x="1049" y="707" width="3" height="1"/>
<rect x="1055" y="707" width="3" height="1"/>
<rect x="1061" y="707" width="3" height="1"/>
<rect x="1067" y="707" width="3" height="1"/>
<rect x="1073" y="707" width="3" height="1"/>
<rect x="1079" y="707" width="3" height="1"/>
<rect x="1085" y="707" width="3" height="1"/>
<rect x="1091" y="707" width="3" height="1"/>
<rect x="1097" y="707" width="3" height="1"/>
<rect x="1103" y="707" width="3" height="1"/>
<rect x="1109" y="707" width="3" height="1"/>
<rect x="1115" y="707" width="3" height="1"/>
<rect x="1121" y="707" width="3" height="1"/>
<rect x="1127" y="707" width="3" height="1"/>
<rect x="1133" y="707" width="3" height="1"/>
<rect x="1139" y="707" width="3" height="1"/>
<rect x="1145" y="707" width="3" height="1"/>
<rect x="1151" y="707" width="3" height="1"/>
<rect x="1157" y="707" width="3" height="1"/>
<rect x="1163" y="707" width="3" height="1"/>
<rect x="1169" y="707" width="3" height="1"/>
<rect x="1175" y="707" width="3" height="1"/>
<rect x="1181" y="707" width="3" height="1"/>
<rect x="1187" y="707" width="3" height="1"/>
<rect x="1193" y="707" width="3" height="1"/>
<rect x="1199" y="707" width="3" height="1"/>
<rect x="1205" y="707" width="3" height="1"/>
<rect x="1211" y="707" width="3" height="1"/>
<rect x="1217" y="707" width="3" height="1"/>
<rect x="1223" y="707" width="3" height="1"/>
<rect x="1229" y="707" width="3" height="1"/>
<rect x="1235" y="707" width="3" height="1"/>
<rect x="1241" y="707" width="3" height="1"/>
<rect x="1247" y="707" width="3" height="1"/>
<rect x="1253" y="707" width="3" height="1"/>
<rect x="1259" y="707" width="3" height="1"/>
<rect x="1265" y="707" width="3" height="1"/>
<rect x="1271" y="707" width="3" height="1"/>
<rect x="1277" y="707" width="3" height="1"/>
<rect x="1283" y="707" width="3" height="1"/>
<rect x="1289" y="707" width="3" height="1"/>
<rect x="1295" y="707" width="3" height="1"/>
<rect x="1301" y="707" width="3" height="1"/>
<rect x="1307" y="707" width="3" height="1"/>
<rect x="1313" y="707" width="3" height="1"/>
<rect x="1319" y="707" width="3" height="1"/>
<rect x="1325" y="707" width="3" height="1"/>
<rect x="1331" y="707" width="3" height="1"/>
<rect x="1337" y="707" width="3" height="1"/>
<rect x="1343" y="707" width="3" height="1"/>
<rect x="1349" y="707" width="3" height="1"/>
<rect x="1355" y="707" width="3" height="1"/>
<rect x="1361" y="707" width="3" height="1"/>
<rect x="1367" y="707" width="3" height="1"/>
<rect x="1373" y="707" width="3" height="1"/>
<rect x="1379" y="707" width="3" height="1"/>
<rect x="1385" y="707" width="3" height="1"/>
<rect x="1391" y="707" width="3" height="1"/>
<rect x="1397" y="707" width="3" height="1"/>
<rect x="1403" y="707" width="3" height="1"/>
<rect x="1409" y="707" width="3" height="1"/>
<rect x="1415" y="707" width="3" height="1"/>
<rect x="5" y="758" width="3" height="1"/>
<rect x="11" y="758" width="3" height="1"/>
<rect x="17" y="758" width="3" height="1"/>
<rect x="23" y="758" width="3" height="1"/>
<rect x="29" y="758" width="3" height="1"/>
<rect x="35" y="758" width="3" height="1"/>
<rect x="41" y="758" width="3" height="1"/>
<rect x="47" y="758" width="3" height="1"/>
<rect x="53" y="758" width="3" height="1"/>
<rect x="59" y="758" width="3" height="1"/>
<rect x="65" y="758" width="3" height="1"/>
<rect x="71" y="758" width="3" height="1"/>
<rect x="77" y="758" width="3" height="1"/>
<rect x="83" y="758" width="3" height="1"/>
<rect x="89" y="758" width="3" height="1"/>
<rect x="95" y="758" width="3" height="1"/>
<rect x="101" y="758" width="3" height="1"/>
<rect x="107" y="758" width="3" height="1"/>
<rect x="113" y="758" width="3" height="1"/>
<rect x="119" y="758" width="3" height="1"/>
<rect x="125" y="758" width="3" height="1"/>
<rect x="131" y="758" width="3" height="1"/>
<rect x="137" y="758" width="3" height="1"/>
<rect x="143" y="758" width="3" height="1"/>
<rect x="149" y="758" width="3" height="1"/>
<rect x="155" y="758" width="3" height="1"/>
<rect x="161" y="758" width="3" height="1"/>
<rect x="167" y="758" width="3" height="1"/>
<rect x="173" y="758" width="3" height="1"/>
<rect x="179" y="758" width="3" height="1"/>
<rect x="185" y="758" width="3" height="1"/>
<rect x="191" y="758" width="3" height="1"/>
<rect x="197" y="758" width="3" height="1"/>
<rect x="203" y="758" width="3" height="1"/>
<rect x="209" y="758" width="3" height="1"/>
<rect x="215" y="758" width="3" height="1"/>
<rect x="221" y="758" width="3" height="1"/>
<rect x="227" y="758" width="3" height="1"/>
<rect x="233" y="758" width="3" height="1"/>
<rect x="239" y="758" width="3" height="1"/>
<rect x="245" y="758" width="3" height="1"/>
<rect x="251" y="758" width="3" height="1"/>
<rect x="257" y="758" width="3" height="1"/>
<rect x="263" y="758" width="3" height="1"/>
<rect x="269" y="758" width="3" height="1"/>
<rect x="275" y="758" width="3" height="1"/>
<rect x="281" y="758" width="3" height="1"/>
<rect x="287" y="758" width="3" height="1"/>
<rect x="293" y="758" width="3" height="1"/>
<rect x="299" y="758" width="3" height="1"/>
<rect x="305" y="758" width="3" height="1"/>
<rect x="311" y="758" width="3" height="1"/>
<rect x="317" y="758" width="3" height="1"/>
<rect x="323" y="758" width="3" height="1"/>
<rect x="329" y="758" width="3" height="1"/>
<rect x="335" y="758" width="3" height="1"/>
<rect x="341" y="758" width="3" height="1"/>
<rect x="347" y="758" width="3" height="1"/>
<rect x="353" y="758" width="3" height="1"/>
<rect x="359" y="758" width="3" height="1"/>
<rect x="365" y="758" width="3" height="1"/>
<rect x="371" y="758" width="3" height="1"/>
<rect x="377" y="758" width="3" height="1"/>
<rect x="383" y="758" width="3" height="1"/>
<rect x="389" y="758" width="3" height="1"/>
<rect x="395" y="758" width="3" height="1"/>
<rect x="401" y="758" width="3" height="1"/>
<rect x="407" y="758" width="3" height="1"/>
<rect x="413" y="758" width="3" height="1"/>
<rect x="419" y="758" width="3" height="1"/>
<rect x="425" y="758" width="3" height="1"/>
<rect x="431" y="758" width="3" height="1"/>
<rect x="437" y="758" width="3" height="1"/>
<rect x="443" y="758" width="3" height="1"/>
<rect x="449" y="758" width="3" height="1"/>
<rect x="455" y="758" width="3" height="1"/>
<rect x="461" y="758" width="3" height="1"/>
<rect x="467" y="758" width="3" height="1"/>
<rect x="473" y="758" width="3" height="1"/>
<rect x="479" y="758" width="3" height="1"/>
<rect x="485" y="758" width="3" height="1"/>
<rect x="491" y="758" width="3" height="1"/>
<rect x="497" y="758" width="3" height="1"/>
<rect x="503" y="758" width="3" height="1"/>
<rect x="509" y="758" width="3" height="1"/>
<rect x="515" y="758" width="3" height="1"/>
<rect x="521" y="758" width="3" height="1"/>
<rect x="527" y="758" width="3" height="1"/>
<rect x="533" y="758" width="3" height="1"/>
<rect x="539" y="758" width="3" height="1"/>
<rect x="545" y="758" width="3" height="1"/>
<rect x="551" y="758" width="3" height="1"/>
<rect x="557" y="758" width="3" height="1"/>
<rect x="563" y="758" width="3" height="1"/>
<rect x="569" y="758" width="3" height="1"/>
<rect x="575" y="758" width="3" height="1"/>
<rect x="581" y="758" width="3" height="1"/>
<rect x="587" y="758" width="3" height="1"/>
<rect x="593" y="758" width="3" height="1"/>
<rect x="599" y="758" width="3" height="1"/>
<rect x="605" y="758" width="3" height="1"/>
<rect x="611" y="758" width="3" height="1"/>
<rect x="617" y="758" width="3" height="1"/>
<rect x="623" y="758" width="3" height="1"/>
<rect x="629" y="758" width="3" height="1"/>
<rect x="635" y="758" width="3" height="1"/>
<rect x="641" y="758" width="3" height="1"/>
<rect x="647" y="758" width="3" height="1"/>
<rect x="653" y="758" width="3" height="1"/>
<rect x="659" y="758" width="3" height="1"/>
<rect x="665" y="758" width="3" height="1"/>
<rect x="671" y="758" width="3" height="1"/>
<rect x="677" y="758" width="3" height="1"/>
<rect x="683" y="758" width="3" height="1"/>
<rect x="689" y="758" width="3" height="1"/>
<rect x="695" y="758" width="3" height="1"/>
<rect x="701" y="758" width="3" height="1"/>
<rect x="707" y="758" width="3" height="1"/>
<rect x="713" y="758" width="3" height="1"/>
<rect x="719" y="758" width="3" height="1"/>
<rect x="725" y="758" width="3" height="1"/>
<rect x="731" y="758" width="3" height="1"/>
<rect x="737" y="758" width="3" height="1"/>
<rect x="743" y="758" width="3" height="1"/>
<rect x="749" y="758" width="3" height="1"/>
<rect x="755" y="758" width="3" height="1"/>
<rect x="761" y="758" width="3" height="1"/>
<rect x="767" y="758" width="3" height="1"/>
<rect x="773" y="758" width="3" height="1"/>
<rect x="779" y="758" width="3" height="1"/>
<rect x="785" y="758" width="3" height="1"/>
<rect x="791" y="758" width="3" height="1"/>
<rect x="797" y="758" width="3" height="1"/>
<rect x="803" y="758" width="3" height="1"/>
<rect x="809" y="758" width="3" height="1"/>
<rect x="815" y="758" width="3" height="1"/>
<rect x="821" y="758" width="3" height="1"/>
<rect x="827" y="758" width="3" height="1"/>
<rect x="833" y="758" width="3" height="1"/>
<rect x="839" y="758" width="3" height="1"/>
<rect x="845" y="758" width="3" height="1"/>
<rect x="851" y="758" width="3" height="1"/>
<rect x="857" y="758" width="3" height="1"/>
<rect x="863" y="758" width="3" height="1"/>
<rect x="869" y="758" width="3" height="1"/>
<rect x="875" y="758" width="3" height="1"/>
<rect x="881" y="758" width="3" height="1"/>
<rect x="887" y="758" width="3" height="1"/>
<rect x="893" y="758" width="3" height="1"/>
<rect x="899" y="758" width="3" height="1"/>
<rect x="905" y="758" width="3" height="1"/>
<rect x="911" y="758" width="3" height="1"/>
<rect x="917" y="758" width="3" height="1"/>
<rect x="923" y="758" width="3" height="1"/>
<rect x="929" y="758" width="3" height="1"/>
<rect x="935" y="758" width="3" height="1"/>
<rect x="941" y="758" width="3" height="1"/>
<rect x="947" y="758" width="3" height="1"/>
<rect x="953" y="758" width="3" height="1"/>
<rect x="959" y="758" width="3" height="1"/>
<rect x="965" y="758" width="3" height="1"/>
<rect x="971" y="758" width="3" height="1"/>
<rect x="977" y="758" width="3" height="1"/>
<rect x="983" y="758" width="3" height="1"/>
<rect x="989" y="758" width="3" height="1"/>
<rect x="995" y="758" width="3" height="1"/>
<rect x="1001" y="758" width="3" height="1"/>
<rect x="1007" y="758" width="3" height="1"/>
<rect x="1013" y="758" width="3" height="1"/>
<rect x="1019" y="758" width="3" height="1"/>
<rect x="1025" y="758" width="3" height="1"/>
<rect x="1031" y="758" width="3" height="1"/>
<rect x="1037" y="758" width="3" height="1"/>
<rect x="1043" y="758" width="3" height="1"/>
<rect x="1049" y="758" width="3" height="1"/>
<rect x="1055" y="758" width="3" height="1"/>
<rect x="1061" y="758" width="3" height="1"/>
<rect x="1067" y="758" width="3" height="1"/>
<rect x="1073" y="758" width="3" height="1"/>
<rect x="1079" y="758" width="3" height="1"/>
<rect x="1085" y="758" width="3" height="1"/>
<rect x="1091" y="758" width="3" height="1"/>
<rect x="1097" y="758" width="3" height="1"/>
<rect x="1103" y="758" width="3" height="1"/>
<rect x="1109" y="758" width="3" height="1"/>
<rect x="1115" y="758" width="3" height="1"/>
<rect x="1121" y="758" width="3" height="1"/>
<rect x="1127" y="758" width="3" height="1"/>
<rect x="1133" y="758" width="3" height="1"/>
<rect x="1139" y="758" width="3" height="1"/>
<rect x="1145" y="758" width="3" height="1"/>
<rect x="1151" y="758" width="3" height="1"/>
<rect x="1157" y="758" width="3" height="1"/>
<rect x="1163" y="758" width="3" height="1"/>
<rect x="1169" y="758" width="3" height="1"/>
<rect x="1175" y="758" width="3" height="1"/>
<rect x="1181" y="758" width="3" height="1"/>
<rect x="1187" y="758" width="3" height="1"/>
<rect x="1193" y="758" width="3" height="1"/>
<rect x="1199" y="758" width="3" height="1"/>
<rect x="1205" y="758" width="3" height="1"/>
<rect x="1211" y="758" width="3" height="1"/>
<rect x="1217" y="758" width="3" height="1"/>
<rect x="1223" y="758" width="3" height="1"/>
<rect x="1229" y="758" width="3" height="1"/>
<rect x="1235" y="758" width="3" height="1"/>
<rect x="1241" y="758" width="3" height="1"/>
<rect x="1247" y="758" width="3" height="1"/>
<rect x="1253" y="758" width="3" height="1"/>
<rect x="1259" y="758" width="3" height="1"/>
<rect x="1265" y="758" width="3" height="1"/>
<rect x="1271" y="758" width="3" height="1"/>
<rect x="1277" y="758" width="3" height="1"/>
<rect x="1283" y="758" width="3" height="1"/>
<rect x="1289" y="758" width="3" height="1"/>
<rect x="1295" y="758" width="3" height="1"/>
<rect x="1301" y="758" width="3" height="1"/>
<rect x="1307" y="758" width="3" height="1"/>
<rect x="1313" y="758" width="3" height="1"/>
<rect x="1319" y="758" width="3" height="1"/>
<rect x="1325" y="758" width="3" height="1"/>
<rect x="1331" y="758" width="3" height="1"/>
<rect x="1337" y="758" width="3" height="1"/>
<rect x="1343" y="758" width="3" height="1"/>
<rect x="1349" y="758" width="3" height="1"/>
<rect x="1355" y="758" width="3" height="1"/>
<rect x="1361" y="758" width="3" height="1"/>
<rect x="1367" y="758" width="3" height="1"/>
<rect x="1373" y="758" width="3" height="1"/>
<rect x="1379" y="758" width="3" height="1"/>
<rect x="1385" y="758" width="3" height="1"/>
<rect x="1391" y="758" width="3" height="1"/>
<rect x="1397" y="758" width="3" height="1"/>
<rect x="1403" y="758" width="3" height="1"/>
<rect x="1409" y="758" width="3" height="1"/>
<rect x="1415" y="758" width="3" height="1"/>
</g>
<polyline clip-path="url(#cr)" points="4,722.8 8,717.4 12,721.0 16,714.3 20,728.5 24,726.6 28,728.4 32,725.7 36,725.2 40,725.5 44,719.7 48,710.2 52,714.2 56,708.0 60,712.8 64,709.9 68,725.9 72,727.8 76,730.6 80,726.1 84,710.3 88,723.5 92,728.9 96,721.3 100,725.2 104,722.7 108,718.3 112,720.5 116,721.9 120,720.0 124,723.9 128,734.2 132,726.5 136,716.3 140,713.9 144,728.2 148,723.8 152,718.1 156,720.7 160,727.0 164,724.3 168,722.3 172,721.0 176,719.4 180,715.1 184,713.5 188,711.4 192,704.3 196,701.0 200,708.8 204,711.4 208,714.5 212,710.0 216,709.5 220,709.5 224,709.5 228,710.6 232,709.9 236,734.1 240,743.4 244,745.7 248,751.6 252,755.6 256,757.8 260,753.4 264,748.7 268,748.9 272,747.5 276,749.5 280,748.9 284,745.2 288,748.0 292,744.7 296,741.1 300,731.3 304,734.0 308,732.4 312,747.7 316,748.4 320,741.8 324,739.1 328,752.8 332,754.3 336,757.1 340,755.3 344,752.4 348,750.5 352,736.7 356,725.7 360,730.6 364,729.9 368,726.9 372,734.3 376,732.5 380,727.8 384,734.1 388,735.2 392,736.2 396,739.0 400,743.6 404,735.4 408,745.1 412,745.9 416,738.0 420,740.5 424,742.7 428,739.5 432,723.1 436,725.3 440,722.5 444,718.1 448,711.0 452,710.9 456,717.8 460,715.7 464,721.4 468,725.1 472,732.8 476,732.8 480,727.1 484,727.8 488,728.4 492,729.6 496,735.6 500,724.6 504,719.8 508,719.8 512,722.8 516,725.5 520,719.8 524,719.1 528,733.0 532,732.4 536,737.9 540,730.4 544,732.3 548,730.4 552,725.3 556,730.5 560,738.0 564,735.2 568,737.2 572,728.5 576,732.4 580,734.7 584,729.4 588,732.5 592,733.1 596,729.3 600,727.8 604,733.9 608,721.6 612,714.3 616,717.1 620,720.2 624,720.2 628,722.0 632,733.2 636,726.2 640,721.8 644,729.1 648,723.2 652,728.0 656,724.1 660,724.1 664,725.7 668,730.9 672,729.9 676,723.9 680,728.2 684,730.8 688,726.7 692,731.1 696,730.4 700,734.2 704,738.4 708,731.8 712,725.3 716,732.4 720,732.4 724,732.7 728,722.7 732,719.2 736,716.7 740,718.0 744,719.6 748,736.0 752,743.7 756,737.7 760,747.1 764,755.5 768,755.7 772,756.3 776,752.7 780,742.3 784,744.3 788,729.4 792,729.8 796,730.2 800,736.2 804,748.3 808,756.0 812,751.8 816,752.4 820,753.8 824,754.4 828,759.2 832,761.6 836,761.9 840,761.3 844,752.4 848,756.2 852,759.6 856,760.6 860,753.4 864,753.7 868,748.1 872,743.4 876,750.3 880,751.2 884,754.5 888,754.5 892,751.1 896,743.2 900,749.7 904,750.0 908,744.2 912,741.1 916,730.9 920,729.2 924,728.7 928,725.2 932,723.4 936,724.3 940,728.1 944,729.7 948,720.2 952,717.0 956,718.1 960,720.6 964,718.1 968,707.8 972,703.8 976,724.2 980,728.1 984,726.4 988,723.3 992,727.9 996,714.7 1000,713.8 1004,725.0 1008,723.9 1012,716.0 1016,719.9 1020,723.0 1024,722.6 1028,723.9 1032,720.6 1036,732.2 1040,726.4 1044,723.7 1048,728.1 1052,722.4 1056,723.1 1060,720.6 1064,719.9 1068,740.1 1072,739.0 1076,746.6 1080,747.2 1084,746.4 1088,749.8 1092,741.9 1096,736.9 1100,725.9 1104,736.0 1108,732.2 1112,732.2 1116,724.4 1120,730.5 1124,728.1 1128,729.5" fill="none" stroke="#1e90ff" stroke-width="1" shape-rendering="crispEdges"/>
<g font-family="Liberation Sans, sans-serif" font-size="9" fill="#000" stroke="#000" stroke-width="0.2">
<text x="8" y="680" font-size="9.3">RSI(14) 52.6047</text>
<text x="1425" y="678">100</text>
<text x="1425" y="711">70</text>
<text x="1425" y="762">30</text>
<text x="1425" y="794">0</text>
</g>
<g font-family="Liberation Sans, sans-serif" font-size="9.3" fill="#000" stroke="#000" stroke-width="0.2">
<rect x="4" y="797" width="1" height="4" shape-rendering="crispEdges"/>
<text x="3.3" y="810">28 Oct 2018</text>
<rect x="68" y="797" width="1" height="4" shape-rendering="crispEdges"/>
<text x="67.3" y="810">15 Nov 2018</text>
<rect x="132" y="797" width="1" height="4" shape-rendering="crispEdges"/>
<text x="131.3" y="810">4 Dec 2018</text>
<rect x="196" y="797" width="1" height="4" shape-rendering="crispEdges"/>
<text x="195.3" y="810">23 Dec 2018</text>
<rect x="260" y="797" width="1" height="4" shape-rendering="crispEdges"/>
<text x="259.3" y="810">10 Jan 2019</text>
<rect x="324" y="797" width="1" height="4" shape-rendering="crispEdges"/>
<text x="323.3" y="810">29 Jan 2019</text>
<rect x="388" y="797" width="1" height="4" shape-rendering="crispEdges"/>
<text x="387.3" y="810">17 Feb 2019</text>
<rect x="452" y="797" width="1" height="4" shape-rendering="crispEdges"/>
<text x="451.3" y="810">7 Mar 2019</text>
<rect x="516" y="797" width="1" height="4" shape-rendering="crispEdges"/>
<text x="515.3" y="810">26 Mar 2019</text>
<rect x="580" y="797" width="1" height="4" shape-rendering="crispEdges"/>
<text x="579.3" y="810">14 Apr 2019</text>
<rect x="644" y="797" width="1" height="4" shape-rendering="crispEdges"/>
<text x="643.3" y="810">3 May 2019</text>
<rect x="708" y="797" width="1" height="4" shape-rendering="crispEdges"/>
<text x="707.3" y="810">22 May 2019</text>
<rect x="772" y="797" width="1" height="4" shape-rendering="crispEdges"/>
<text x="771.3" y="810">10 Jun 2019</text>
<rect x="836" y="797" width="1" height="4" shape-rendering="crispEdges"/>
<text x="835.3" y="810">28 Jun 2019</text>
<rect x="900" y="797" width="1" height="4" shape-rendering="crispEdges"/>
<text x="899.3" y="810">17 Jul 2019</text>
<rect x="964" y="797" width="1" height="4" shape-rendering="crispEdges"/>
<text x="963.3" y="810">5 Aug 2019</text>
<rect x="1028" y="797" width="1" height="4" shape-rendering="crispEdges"/>
<text x="1027.3" y="810">23 Aug 2019</text>
<rect x="1092" y="797" width="1" height="4" shape-rendering="crispEdges"/>
<text x="1091.3" y="810">11 Sep 2019</text>
</g>
<g font-family="Liberation Sans, sans-serif" font-size="10" fill="#000" stroke="#000" stroke-width="0.2">
<path d="M7 32 L10.5 28 L14 32 Z" fill="#000"/>
<text x="19.2" y="33" font-size="9.7">USDCAD-,Daily</text>
<text x="94.4" y="33" font-size="9.2">1.32694 1.32713 1.32669 1.32674</text>
</g>
</svg>
<!-- top timeframe tabs -->
<div class="abs" style="left:30px;top:0;width:24px;height:15px;background-color:#f4f4f4;background-image:linear-gradient(45deg,#e8e8e8 25%,transparent 25%,transparent 75%,#e8e8e8 75%),linear-gradient(45deg,#e8e8e8 25%,transparent 25%,transparent 75%,#e8e8e8 75%);background-size:2px 2px;background-position:0 0,1px 1px"></div>
<div class="abs" style="left:29px;top:0;width:1px;height:15px;background:#8a8a8a"></div>
<div class="abs" style="left:112px;top:0;width:1px;height:17px;background:#a0a0a0"></div>
<div class="abs tf" style="left:7px">H4</div>
<div class="abs tf" style="left:35px">D1</div>
<div class="abs tf" style="left:62px">W1</div>
<div class="abs tf" style="left:89px">MN</div>

<!-- shift marker -->
<svg class="abs" style="left:1127px;top:21px" width="14" height="8"><path d="M3 1 L12 1 L7.5 6 Z" fill="#c4c4c4"/></svg>

<!-- trade panel -->
<div class="abs" style="left:5px;top:40px;width:223px;height:67px;background:#fff"></div>
<div class="abs" style="left:7px;top:41px;width:50px;height:24px;border:1px solid #b40000;border-bottom:none;background:linear-gradient(#f85858,#e02a2a)"></div>
<div class="abs btxt" style="left:7px;top:45px;width:52px">SELL</div>
<div class="abs" style="left:11px;top:64px;width:45px;height:1px;background:#8e0000"></div>
<div class="abs" style="left:11px;top:65px;width:45px;height:1px;background:#ee8080"></div>
<div class="abs" style="left:7px;top:65px;width:109px;height:40px;background:linear-gradient(#e33a3a,#b00000)"></div>
<div class="abs" style="left:58px;top:65px;width:58px;height:1px;background:#c40000"></div>

<div class="abs" style="left:174px;top:41px;width:50px;height:24px;border:1px solid #b40000;border-bottom:none;background:linear-gradient(#f85858,#e02a2a)"></div>
<div class="abs btxt" style="left:174px;top:45px;width:52px">BUY</div>
<div class="abs" style="left:178px;top:64px;width:45px;height:1px;background:#8e0000"></div>
<div class="abs" style="left:178px;top:65px;width:45px;height:1px;background:#ee8080"></div>
<div class="abs" style="left:118px;top:65px;width:108px;height:40px;background:linear-gradient(#e33a3a,#b00000)"></div>

<div class="abs" style="left:61px;top:41px;width:109px;height:20px;border:1px solid #a8a8a8;background:#fff"></div>
<div class="abs" style="left:62px;top:42px;width:20px;height:20px;border-right:1px solid #a8a8a8;background:linear-gradient(#f4f4f4 0%,#e6e6e6 45%,#d2d2d2 50%,#cccccc 100%)"></div>
<div class="abs" style="left:150px;top:42px;width:20px;height:20px;border-left:1px solid #a8a8a8;background:linear-gradient(#f4f4f4 0%,#e6e6e6 45%,#d2d2d2 50%,#cccccc 100%)"></div>
<svg class="abs" style="left:67px;top:49px" width="10" height="6"><path d="M2 1 L8 1 L5 4 Z" fill="#4a66c8"/></svg>
<svg class="abs" style="left:156px;top:49px" width="10" height="6"><path d="M2 4 L8 4 L5 1 Z" fill="#4a66c8"/></svg>
<div class="abs" style="left:100px;top:45px;width:47px;text-align:right;font-size:12px;color:#000;line-height:14px">1.00</div>

<svg class="abs" style="left:0;top:0" width="240" height="110"><g font-family="Liberation Sans, sans-serif" fill="#fff">
<text x="27.5" y="96" font-size="12" font-weight="bold" textLength="23" lengthAdjust="spacingAndGlyphs">1.32</text>
<text x="55.6" y="96.4" font-size="34" textLength="33" lengthAdjust="spacingAndGlyphs">67</text>
<text x="94" y="80" font-size="12" font-weight="bold">4</text>
<text x="137.5" y="96" font-size="12" font-weight="bold" textLength="23" lengthAdjust="spacingAndGlyphs">1.32</text>
<text x="166" y="96.4" font-size="34" textLength="33" lengthAdjust="spacingAndGlyphs">69</text>
<text x="205" y="80" font-size="12" font-weight="bold">9</text>
</g></svg>

<!-- bottom tab bar -->
<div class="abs" style="left:0;top:818px;width:1462px;height:1px;background:#e6e6e6"></div>
<div class="abs" style="left:0;top:820px;width:1462px;height:1px;background:#000"></div>
<div class="abs" style="left:0;top:821px;width:1462px;height:19px;background:#f0f0f0"></div>
<div class="abs" style="left:329px;top:820px;width:106px;height:17px;border:1px solid #000;border-top:1px solid #000;background:#fff"></div>
<div class="abs tab" style="left:16px">EURUSD-,Daily</div>
<div class="abs sep" style="left:113px"></div>
<div class="abs tab" style="left:123px">AUDUSD-,Daily</div>
<div class="abs sep" style="left:221px"></div>
<div class="abs tab" style="left:233px">USDCHF-,Daily</div>
<div class="abs tab" style="left:340px;color:#000">USDCAD-,Daily</div>
<div class="abs tab" style="left:449px">USDCNH-,Daily</div>
<div class="abs sep" style="left:549px"></div>
<div class="abs tab" style="left:560px">EURCHF-,Weekly</div>
<div class="abs sep" style="left:669px"></div>
<div class="abs tab" style="left:680px">XAUUSD-,Daily</div>
<div class="abs sep" style="left:777px"></div>
<div class="abs tab" style="left:789px">GBPUSD-,H1</div>
<div class="abs sep" style="left:873px"></div>
<div class="abs tab" style="left:884px">UKOil-,H1</div>
<div class="abs sep" style="left:953px"></div>
<div class="abs tab" style="left:963px">USDX-,Weekly</div>
<div class="abs sep" style="left:1057px"></div>
<div class="abs tab" style="left:1068px">EURCHF-,Weekly</div>
<div class="abs sep" style="left:1177px"></div>
<svg class="abs" style="left:1432px;top:824px" width="30" height="12"><path d="M3 5 L6.5 1.5 L6.5 8.5 Z" fill="#9a9a9a"/><path d="M25.5 5 L22 1.5 L22 8.5 Z" fill="#9a9a9a"/></svg>

</body></html>
